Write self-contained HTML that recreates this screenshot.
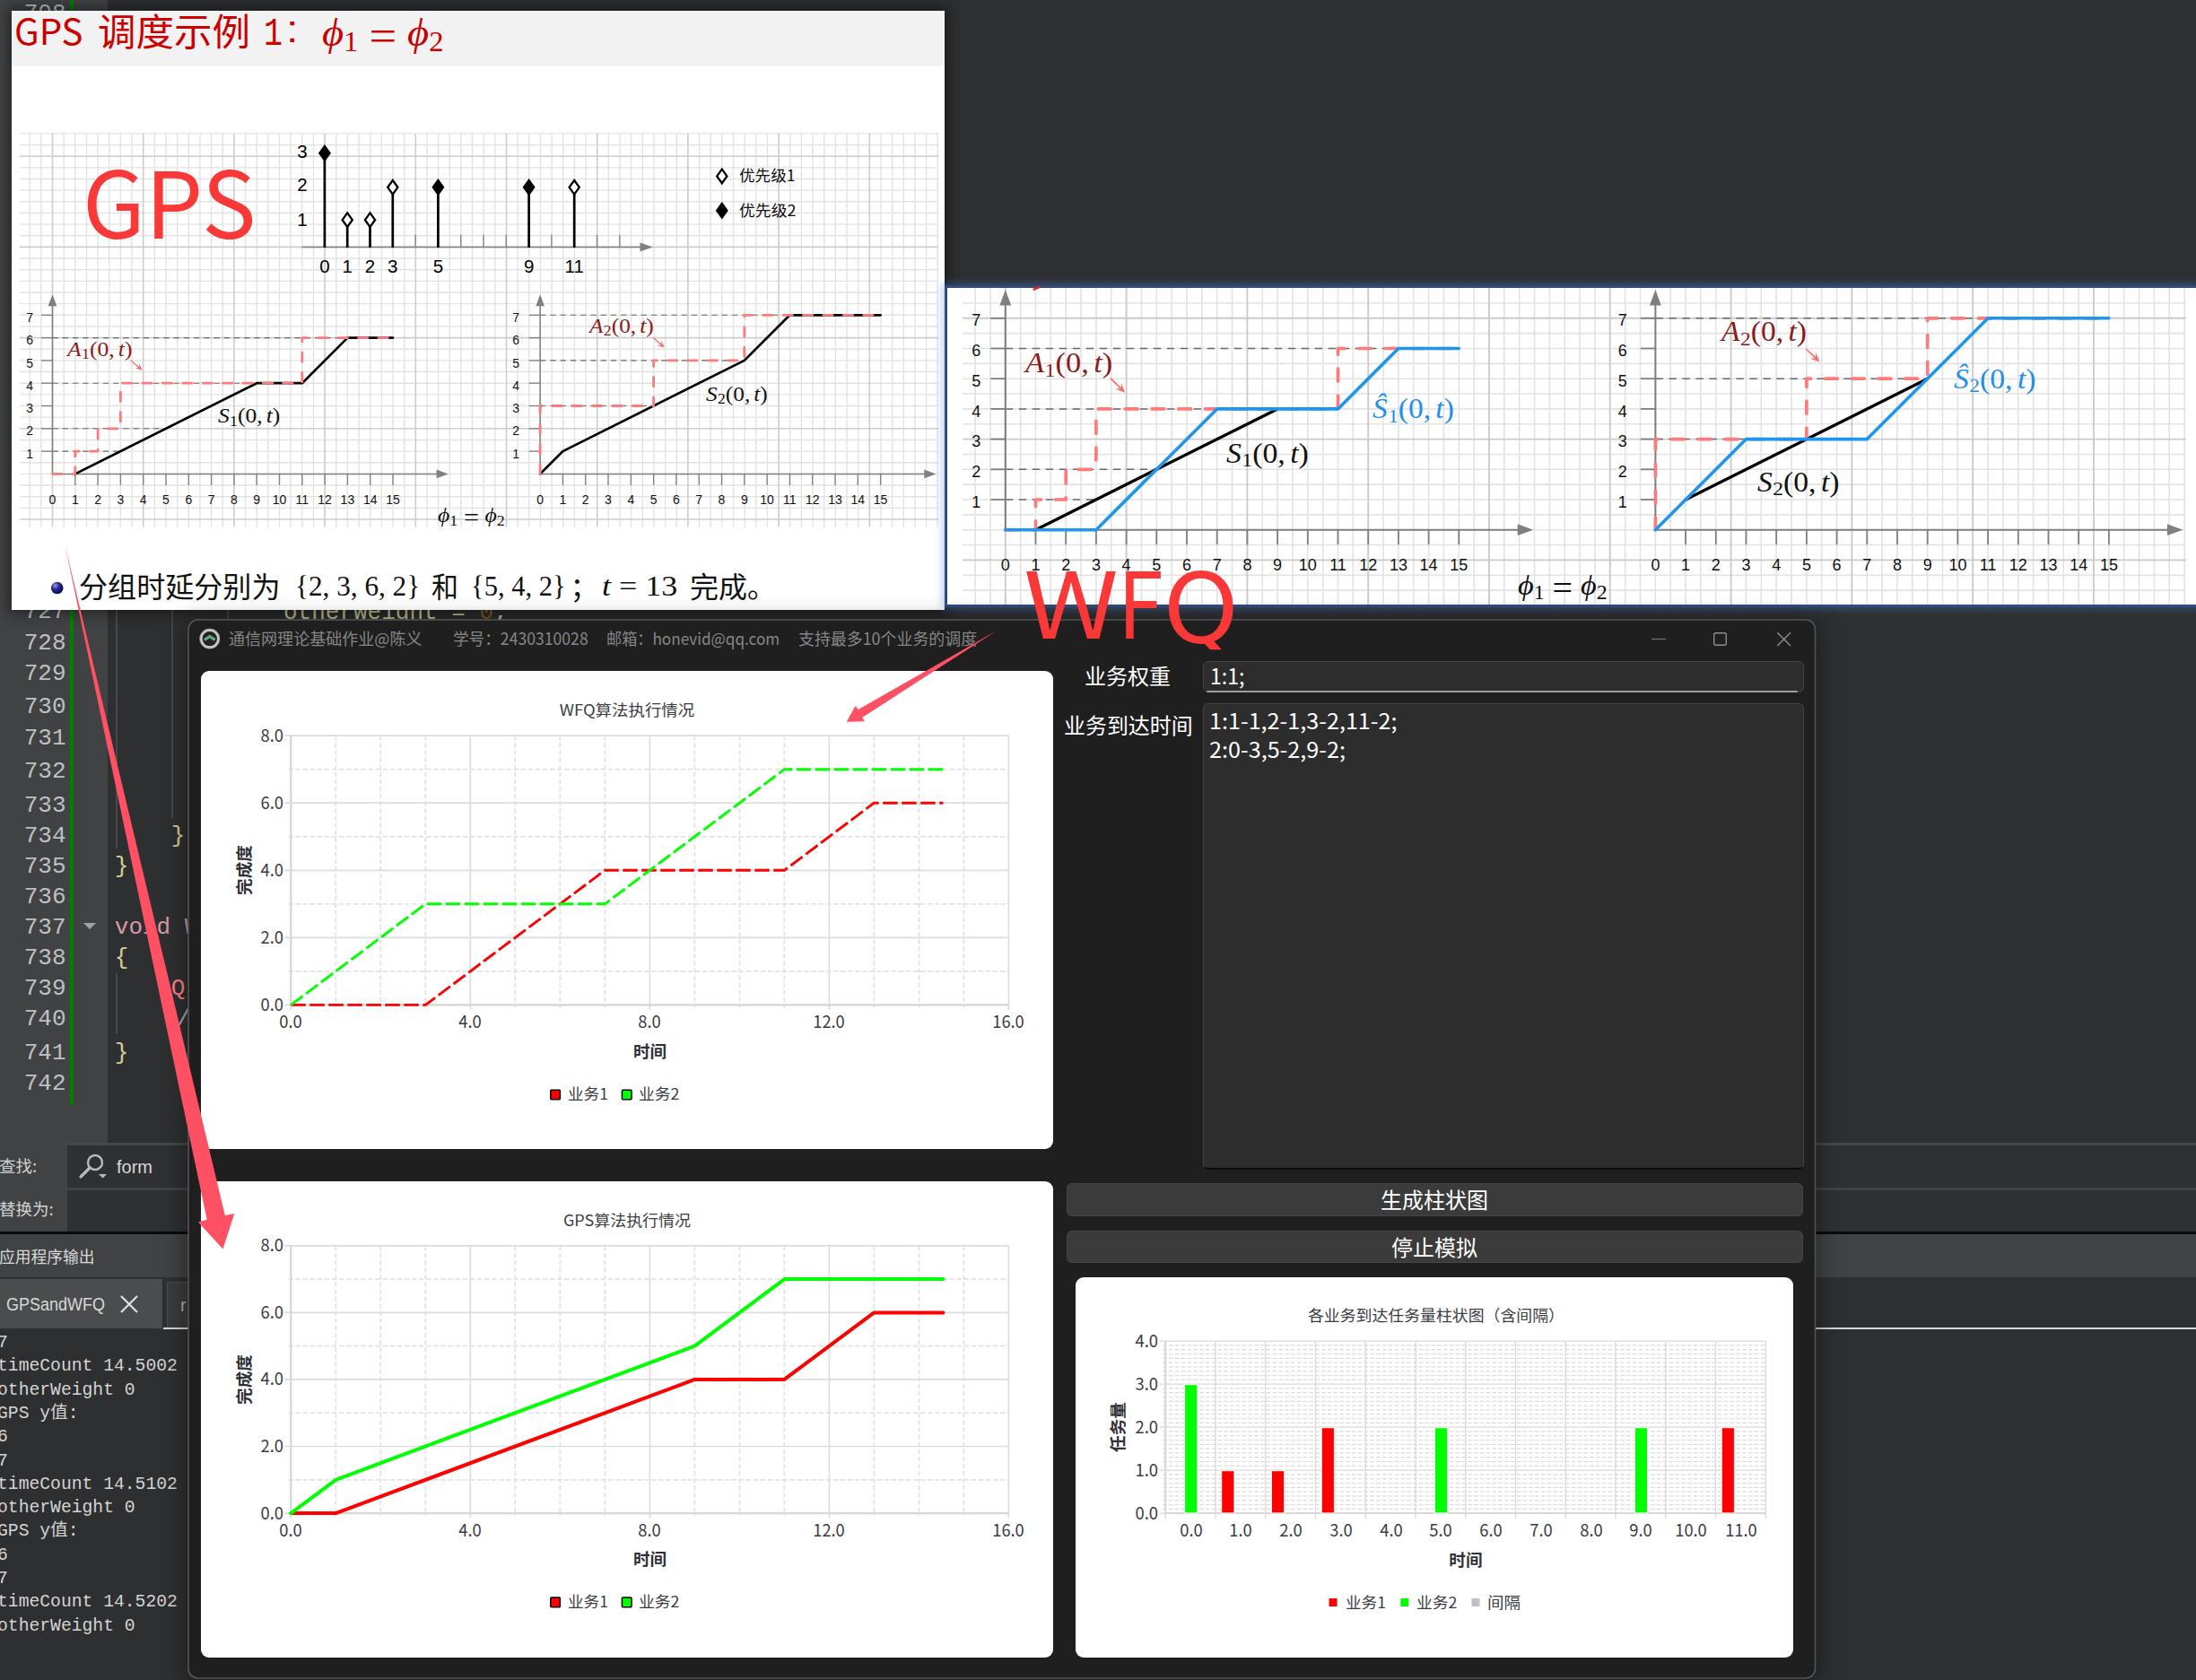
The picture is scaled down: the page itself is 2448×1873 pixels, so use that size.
<!DOCTYPE html>
<html lang="zh-CN"><head><meta charset="utf-8"><title>GPS and WFQ</title>
<style>
*{box-sizing:border-box}
html,body{margin:0;padding:0}
body{width:2448px;height:1873px;overflow:hidden;background:#2e2f31;position:relative;font-family:'Liberation Sans','Noto Sans CJK SC',sans-serif}
.abs{position:absolute}
svg{position:absolute;overflow:visible}
svg text{white-space:pre}
.t{position:absolute;white-space:pre;line-height:1}
</style></head>
<body>
<!-- IDE background -->
<div id="ide"><div class="abs" style="left:0;top:0;width:120px;height:1274px;background:#404244"></div>
<div class="abs" style="left:78px;top:0;width:4px;height:1232px;background:#008000"></div>
<div class="abs" style="left:129px;top:680px;width:2px;height:266px;background:#47484a"></div>
<div class="abs" style="left:191px;top:680px;width:2px;height:232px;background:#47484a"></div>
<div class="abs" style="left:253px;top:680px;width:2px;height:12px;background:#47484a"></div>
<div class="abs" style="left:129px;top:1085px;width:2px;height:68px;background:#47484a"></div>
<div class="t" style="left:73.5px;top:14.5px;font:400 26px/1 'Liberation Mono','Noto Sans CJK SC',monospace;color:#bec0c2;transform:translate(-100%,-50%);transform-origin:100% 50%;">708</div>
<div class="t" style="left:73.5px;top:682.2px;font:400 26px/1 'Liberation Mono','Noto Sans CJK SC',monospace;color:#bec0c2;transform:translate(-100%,-50%);transform-origin:100% 50%;">727</div>
<div class="t" style="left:73.5px;top:717.2px;font:400 26px/1 'Liberation Mono','Noto Sans CJK SC',monospace;color:#bec0c2;transform:translate(-100%,-50%);transform-origin:100% 50%;">728</div>
<div class="t" style="left:73.5px;top:750.7px;font:400 26px/1 'Liberation Mono','Noto Sans CJK SC',monospace;color:#bec0c2;transform:translate(-100%,-50%);transform-origin:100% 50%;">729</div>
<div class="t" style="left:73.5px;top:788.2px;font:400 26px/1 'Liberation Mono','Noto Sans CJK SC',monospace;color:#bec0c2;transform:translate(-100%,-50%);transform-origin:100% 50%;">730</div>
<div class="t" style="left:73.5px;top:822.7px;font:400 26px/1 'Liberation Mono','Noto Sans CJK SC',monospace;color:#bec0c2;transform:translate(-100%,-50%);transform-origin:100% 50%;">731</div>
<div class="t" style="left:73.5px;top:860.2px;font:400 26px/1 'Liberation Mono','Noto Sans CJK SC',monospace;color:#bec0c2;transform:translate(-100%,-50%);transform-origin:100% 50%;">732</div>
<div class="t" style="left:73.5px;top:897.7px;font:400 26px/1 'Liberation Mono','Noto Sans CJK SC',monospace;color:#bec0c2;transform:translate(-100%,-50%);transform-origin:100% 50%;">733</div>
<div class="t" style="left:73.5px;top:932.2px;font:400 26px/1 'Liberation Mono','Noto Sans CJK SC',monospace;color:#bec0c2;transform:translate(-100%,-50%);transform-origin:100% 50%;">734</div>
<div class="t" style="left:73.5px;top:966.2px;font:400 26px/1 'Liberation Mono','Noto Sans CJK SC',monospace;color:#bec0c2;transform:translate(-100%,-50%);transform-origin:100% 50%;">735</div>
<div class="t" style="left:73.5px;top:1000.2px;font:400 26px/1 'Liberation Mono','Noto Sans CJK SC',monospace;color:#bec0c2;transform:translate(-100%,-50%);transform-origin:100% 50%;">736</div>
<div class="t" style="left:73.5px;top:1034.2px;font:400 26px/1 'Liberation Mono','Noto Sans CJK SC',monospace;color:#bec0c2;transform:translate(-100%,-50%);transform-origin:100% 50%;">737</div>
<div class="t" style="left:73.5px;top:1068.2px;font:400 26px/1 'Liberation Mono','Noto Sans CJK SC',monospace;color:#bec0c2;transform:translate(-100%,-50%);transform-origin:100% 50%;">738</div>
<div class="t" style="left:73.5px;top:1102.2px;font:400 26px/1 'Liberation Mono','Noto Sans CJK SC',monospace;color:#bec0c2;transform:translate(-100%,-50%);transform-origin:100% 50%;">739</div>
<div class="t" style="left:73.5px;top:1136.2px;font:400 26px/1 'Liberation Mono','Noto Sans CJK SC',monospace;color:#bec0c2;transform:translate(-100%,-50%);transform-origin:100% 50%;">740</div>
<div class="t" style="left:73.5px;top:1174.2px;font:400 26px/1 'Liberation Mono','Noto Sans CJK SC',monospace;color:#bec0c2;transform:translate(-100%,-50%);transform-origin:100% 50%;">741</div>
<div class="t" style="left:73.5px;top:1208.2px;font:400 26px/1 'Liberation Mono','Noto Sans CJK SC',monospace;color:#bec0c2;transform:translate(-100%,-50%);transform-origin:100% 50%;">742</div>
<div class="t" style="left:316.0px;top:683.0px;font:400 26px/1 'Liberation Mono','Noto Sans CJK SC',monospace;color:#d6cf9a;transform:translate(0,-50%);transform-origin:0 50%;"><span style="color:#d6cf9a">otherWeight = </span><span style="color:#8a602c">0</span><span style="color:#d6cf9a">;</span></div>
<div class="t" style="left:190.8px;top:932.3px;font:400 26px/1 'Liberation Mono','Noto Sans CJK SC',monospace;color:#d6cf9a;transform:translate(0,-50%);transform-origin:0 50%;">}</div>
<div class="t" style="left:127.8px;top:966.3px;font:400 26px/1 'Liberation Mono','Noto Sans CJK SC',monospace;color:#d6cf9a;transform:translate(0,-50%);transform-origin:0 50%;">}</div>
<div class="t" style="left:127.8px;top:1034.3px;font:400 26px/1 'Liberation Mono','Noto Sans CJK SC',monospace;color:#d69aa7;transform:translate(0,-50%);transform-origin:0 50%;">void W</div>
<div class="t" style="left:127.8px;top:1068.3px;font:400 26px/1 'Liberation Mono','Noto Sans CJK SC',monospace;color:#d6cf9a;transform:translate(0,-50%);transform-origin:0 50%;">{</div>
<div class="t" style="left:190.8px;top:1102.3px;font:400 26px/1 'Liberation Mono','Noto Sans CJK SC',monospace;color:#ff8080;transform:translate(0,-50%);transform-origin:0 50%;">Q.</div>
<div class="t" style="left:197.0px;top:1136.3px;font:400 26px/1 'Liberation Mono','Noto Sans CJK SC',monospace;color:#a8abb0;transform:translate(0,-50%);transform-origin:0 50%;">//</div>
<div class="t" style="left:127.8px;top:1174.3px;font:400 26px/1 'Liberation Mono','Noto Sans CJK SC',monospace;color:#d6cf9a;transform:translate(0,-50%);transform-origin:0 50%;">}</div>
<svg style="left:93px;top:1029px" width="14" height="8"><path d="M0 0H14L7 7Z" fill="#a0a2a4"/></svg>
<div class="abs" style="left:0;top:1274px;width:2448px;height:3px;background:#46474a"></div>
<div class="abs" style="left:0;top:1277px;width:2448px;height:97px;background:#2e2f31"></div>
<div class="abs" style="left:0;top:1274px;width:75px;height:100px;background:#404244"></div>
<div class="abs" style="left:75px;top:1278px;width:2373px;height:46px;background:#2f3032"></div>
<div class="abs" style="left:0;top:1324px;width:2448px;height:3px;background:#404244"></div>
<div class="abs" style="left:75px;top:1327px;width:2373px;height:46px;background:#2f3032"></div>
<div class="abs" style="left:0;top:1373px;width:2448px;height:3px;background:#0a0a0b"></div>
<div class="abs" style="left:0;top:1376px;width:2448px;height:48px;background:#404244"></div>
<div class="abs" style="left:0;top:1424px;width:2448px;height:449px;background:#2e2f31"></div>
<div class="abs" style="left:0;top:1426px;width:181px;height:55px;background:#4b4c4e"></div>
<div class="abs" style="left:186px;top:1429px;width:60px;height:52px;background:#3a3b3d;border:1px solid #4b4c4e"></div>
<div class="abs" style="left:182px;top:1480px;width:2266px;height:2px;background:#d8d8d8"></div>
<div class="t" style="left:-1.0px;top:1298.8px;font:400 18.5px/1 'Noto Sans CJK SC','Liberation Sans',sans-serif;color:#d0d0d0;transform:translate(0,-50%);transform-origin:0 50%;">查找:</div>
<div class="t" style="left:-1.0px;top:1347.2px;font:400 18.5px/1 'Noto Sans CJK SC','Liberation Sans',sans-serif;color:#d0d0d0;transform:translate(0,-50%);transform-origin:0 50%;">替换为:</div>
<div class="t" style="left:-1.0px;top:1399.5px;font:400 18px/1 'Noto Sans CJK SC','Liberation Sans',sans-serif;color:#d8d8d8;transform:translate(0,-50%) scaleX(0.9861);transform-origin:0 50%;">应用程序输出</div>
<div class="t" style="left:7.0px;top:1453.5px;font:400 20px/1 'Liberation Sans','Noto Sans CJK SC',sans-serif;color:#d8d8d8;transform:translate(0,-50%) scaleX(0.8997);transform-origin:0 50%;">GPSandWFQ</div>
<svg style="left:134px;top:1444px" width="20" height="20"><path d="M1 1L19 19M19 1L1 19" stroke="#e0e0e0" stroke-width="2.2" fill="none"/></svg>
<div class="t" style="left:201.0px;top:1455.0px;font:400 20px/1 'Liberation Sans','Noto Sans CJK SC',sans-serif;color:#b0b0b0;transform:translate(0,-50%);transform-origin:0 50%;">r</div>
<svg style="left:88px;top:1285px" width="34" height="32"><circle cx="18" cy="11" r="8" stroke="#b9babb" stroke-width="2.4" fill="none"/><path d="M12 17L2 27" stroke="#b9babb" stroke-width="3.2" stroke-linecap="round"/><path d="M22 24H31L26.500 28.500Z" fill="#b9babb"/></svg>
<div class="t" style="left:130.0px;top:1301.0px;font:400 20px/1 'Liberation Sans','Noto Sans CJK SC',sans-serif;color:#d8d8d8;transform:translate(0,-50%);transform-origin:0 50%;">form</div>
<div class="t" style="left:-3.0px;top:1498.1px;font:400 19.7px/1 'Liberation Mono','Noto Sans CJK SC',monospace;color:#d4d4d4;transform:translate(0,-50%);transform-origin:0 50%;">7</div>
<div class="t" style="left:-3.0px;top:1524.4px;font:400 19.7px/1 'Liberation Mono','Noto Sans CJK SC',monospace;color:#d4d4d4;transform:translate(0,-50%);transform-origin:0 50%;">timeCount 14.5002</div>
<div class="t" style="left:-3.0px;top:1550.7px;font:400 19.7px/1 'Liberation Mono','Noto Sans CJK SC',monospace;color:#d4d4d4;transform:translate(0,-50%);transform-origin:0 50%;">otherWeight 0</div>
<div class="t" style="left:-3.0px;top:1577.0px;font:400 19.7px/1 'Liberation Mono','Noto Sans CJK SC',monospace;color:#d4d4d4;transform:translate(0,-50%);transform-origin:0 50%;">GPS y值:</div>
<div class="t" style="left:-3.0px;top:1603.3px;font:400 19.7px/1 'Liberation Mono','Noto Sans CJK SC',monospace;color:#d4d4d4;transform:translate(0,-50%);transform-origin:0 50%;">6</div>
<div class="t" style="left:-3.0px;top:1629.5px;font:400 19.7px/1 'Liberation Mono','Noto Sans CJK SC',monospace;color:#d4d4d4;transform:translate(0,-50%);transform-origin:0 50%;">7</div>
<div class="t" style="left:-3.0px;top:1655.8px;font:400 19.7px/1 'Liberation Mono','Noto Sans CJK SC',monospace;color:#d4d4d4;transform:translate(0,-50%);transform-origin:0 50%;">timeCount 14.5102</div>
<div class="t" style="left:-3.0px;top:1682.1px;font:400 19.7px/1 'Liberation Mono','Noto Sans CJK SC',monospace;color:#d4d4d4;transform:translate(0,-50%);transform-origin:0 50%;">otherWeight 0</div>
<div class="t" style="left:-3.0px;top:1708.4px;font:400 19.7px/1 'Liberation Mono','Noto Sans CJK SC',monospace;color:#d4d4d4;transform:translate(0,-50%);transform-origin:0 50%;">GPS y值:</div>
<div class="t" style="left:-3.0px;top:1734.7px;font:400 19.7px/1 'Liberation Mono','Noto Sans CJK SC',monospace;color:#d4d4d4;transform:translate(0,-50%);transform-origin:0 50%;">6</div>
<div class="t" style="left:-3.0px;top:1761.0px;font:400 19.7px/1 'Liberation Mono','Noto Sans CJK SC',monospace;color:#d4d4d4;transform:translate(0,-50%);transform-origin:0 50%;">7</div>
<div class="t" style="left:-3.0px;top:1787.3px;font:400 19.7px/1 'Liberation Mono','Noto Sans CJK SC',monospace;color:#d4d4d4;transform:translate(0,-50%);transform-origin:0 50%;">timeCount 14.5202</div>
<div class="t" style="left:-3.0px;top:1813.6px;font:400 19.7px/1 'Liberation Mono','Noto Sans CJK SC',monospace;color:#d4d4d4;transform:translate(0,-50%);transform-origin:0 50%;">otherWeight 0</div></div>
<!-- beamer slide -->
<div id="slide"><div class="abs" style="left:13px;top:12px;width:1040px;height:668px;background:#fff;box-shadow:0 0 14px 4px rgba(0,0,0,.45)"></div>
<div class="abs" style="left:13px;top:12px;width:1040px;height:62px;background:#f2f2f2"></div>
<div class="t" style="left:15.5px;top:33.2px;font:400 40px/1 'Noto Sans CJK SC','Liberation Sans',sans-serif;color:#cc0000;transform:translate(0,-50%) scaleX(1.0029);transform-origin:0 50%;">GPS</div>
<div class="t" style="left:108.5px;top:33.2px;font:400 42px/1 'Noto Sans CJK SC','Liberation Sans',sans-serif;color:#cc0000;transform:translate(0,-50%) scaleX(1.0118);transform-origin:0 50%;">调度示例</div>
<div class="t" style="left:293.6px;top:38.0px;font:400 44.5px/1 'Liberation Mono','Noto Sans CJK SC',monospace;color:#cc0000;transform:translate(0,-50%) scaleX(0.7860);transform-origin:0 50%;">1</div>
<div class="t" style="left:319.0px;top:32.5px;font:400 42px/1 'Liberation Sans','Noto Sans CJK SC',sans-serif;color:#cc0000;transform:translate(0,-50%) scaleX(1.1566);transform-origin:0 50%;">:</div>
<div class="t" style="left:359.0px;top:36.5px;font:400 44px/1 'Liberation Serif','Noto Serif CJK SC',serif;color:#cc0000;transform:translate(0,-50%) scaleX(1.0583);transform-origin:0 50%;"><i>ϕ</i><span style="font-size:0.7em;position:relative;top:0.2em">1</span><span style="margin:0 0.22em;font-size:1.17em;position:relative;top:0.13em;line-height:0">=</span><i>ϕ</i><span style="font-size:0.7em;position:relative;top:0.2em">2</span></div>
<svg style="left:0;top:0" width="2448" height="1873"><path d="M33.20 148.7V587.6M45.85 148.7V587.6M71.15 148.7V587.6M83.80 148.7V587.6M96.45 148.7V587.6M109.10 148.7V587.6M121.75 148.7V587.6M134.40 148.7V587.6M147.05 148.7V587.6M172.35 148.7V587.6M185.00 148.7V587.6M197.65 148.7V587.6M210.30 148.7V587.6M222.95 148.7V587.6M235.60 148.7V587.6M248.25 148.7V587.6M273.55 148.7V587.6M286.20 148.7V587.6M298.85 148.7V587.6M311.50 148.7V587.6M324.15 148.7V587.6M336.80 148.7V587.6M349.45 148.7V587.6M374.75 148.7V587.6M387.40 148.7V587.6M400.05 148.7V587.6M412.70 148.7V587.6M425.35 148.7V587.6M438.00 148.7V587.6M450.65 148.7V587.6M475.95 148.7V587.6M488.60 148.7V587.6M501.25 148.7V587.6M513.90 148.7V587.6M526.55 148.7V587.6M539.20 148.7V587.6M551.85 148.7V587.6M577.15 148.7V587.6M589.80 148.7V587.6M602.45 148.7V587.6M615.10 148.7V587.6M627.75 148.7V587.6M640.40 148.7V587.6M653.05 148.7V587.6M678.35 148.7V587.6M691.00 148.7V587.6M703.65 148.7V587.6M716.30 148.7V587.6M728.95 148.7V587.6M741.60 148.7V587.6M754.25 148.7V587.6M779.55 148.7V587.6M792.20 148.7V587.6M804.85 148.7V587.6M817.50 148.7V587.6M830.15 148.7V587.6M842.80 148.7V587.6M855.45 148.7V587.6M880.75 148.7V587.6M893.40 148.7V587.6M906.05 148.7V587.6M918.70 148.7V587.6M931.35 148.7V587.6M944.00 148.7V587.6M956.65 148.7V587.6M981.95 148.7V587.6M994.60 148.7V587.6M1007.25 148.7V587.6M1019.90 148.7V587.6M1032.55 148.7V587.6M1045.20 148.7V587.6M21.8 148.90H1046.2M21.8 161.55H1046.2M21.8 186.85H1046.2M21.8 199.50H1046.2M21.8 212.15H1046.2M21.8 224.80H1046.2M21.8 237.45H1046.2M21.8 250.10H1046.2M21.8 262.75H1046.2M21.8 288.05H1046.2M21.8 300.70H1046.2M21.8 313.35H1046.2M21.8 326.00H1046.2M21.8 338.65H1046.2M21.8 351.30H1046.2M21.8 363.95H1046.2M21.8 389.25H1046.2M21.8 401.90H1046.2M21.8 414.55H1046.2M21.8 427.20H1046.2M21.8 439.85H1046.2M21.8 452.50H1046.2M21.8 465.15H1046.2M21.8 490.45H1046.2M21.8 503.10H1046.2M21.8 515.75H1046.2M21.8 528.40H1046.2M21.8 541.05H1046.2M21.8 553.70H1046.2M21.8 566.35H1046.2" stroke="#e3e3e3" stroke-width="1.4" fill="none"/><path d="M58.50 148.7V587.6M159.70 148.7V587.6M260.90 148.7V587.6M362.10 148.7V587.6M463.30 148.7V587.6M564.50 148.7V587.6M665.70 148.7V587.6M766.90 148.7V587.6M868.10 148.7V587.6M969.30 148.7V587.6M21.8 174.20H1046.2M21.8 275.40H1046.2M21.8 376.60H1046.2M21.8 477.80H1046.2M21.8 579.00H1046.2" stroke="#cdcdcd" stroke-width="1.6" fill="none"/><path d="M336.4 275.5H716" stroke="#808080" stroke-width="1.6"/><path d="M727.6 275.5L713.5 270.5V280.5Z" fill="#808080"/><path d="M463.1 275.5v-13.7" stroke="#808080" stroke-width="1.3"/><path d="M513.7 275.5v-13.7" stroke="#808080" stroke-width="1.3"/><path d="M539.0 275.5v-13.7" stroke="#808080" stroke-width="1.3"/><path d="M564.3 275.5v-13.7" stroke="#808080" stroke-width="1.3"/><path d="M614.9 275.5v-13.7" stroke="#808080" stroke-width="1.3"/><path d="M665.5 275.5v-13.7" stroke="#808080" stroke-width="1.3"/><path d="M690.8 275.5v-13.7" stroke="#808080" stroke-width="1.3"/><path d="M361.9 276.0V177.7" stroke="#000" stroke-width="2.7"/><path d="M361.9 162.9L367.5 170.7L361.9 178.5L356.3 170.7Z" fill="#000" stroke="#000" stroke-width="2.3" stroke-linejoin="miter"/><path d="M387.2 276.0V252.2" stroke="#000" stroke-width="2.7"/><path d="M387.2 237.4L392.8 245.2L387.2 253.0L381.6 245.2Z" fill="#fff" stroke="#000" stroke-width="2.3" stroke-linejoin="miter"/><path d="M412.5 276.0V252.2" stroke="#000" stroke-width="2.7"/><path d="M412.5 237.4L418.1 245.2L412.5 253.0L406.9 245.2Z" fill="#fff" stroke="#000" stroke-width="2.3" stroke-linejoin="miter"/><path d="M437.8 276.0V215.8" stroke="#000" stroke-width="2.7"/><path d="M437.8 201.0L443.4 208.8L437.8 216.6L432.2 208.8Z" fill="#fff" stroke="#000" stroke-width="2.3" stroke-linejoin="miter"/><path d="M488.4 276.0V215.8" stroke="#000" stroke-width="2.7"/><path d="M488.4 201.0L494.0 208.8L488.4 216.6L482.8 208.8Z" fill="#000" stroke="#000" stroke-width="2.3" stroke-linejoin="miter"/><path d="M589.6 276.0V215.8" stroke="#000" stroke-width="2.7"/><path d="M589.6 201.0L595.2 208.8L589.6 216.6L584.0 208.8Z" fill="#000" stroke="#000" stroke-width="2.3" stroke-linejoin="miter"/><path d="M640.2 276.0V215.8" stroke="#000" stroke-width="2.7"/><path d="M640.2 201.0L645.8 208.8L640.2 216.6L634.6 208.8Z" fill="#fff" stroke="#000" stroke-width="2.3" stroke-linejoin="miter"/><path d="M804.8 188.6L810.4 196.4L804.8 204.2L799.2 196.4Z" fill="#fff" stroke="#000" stroke-width="2.3" stroke-linejoin="miter"/><path d="M804.8 226.9L810.4 234.7L804.8 242.5L799.2 234.7Z" fill="#000" stroke="#000" stroke-width="2.3" stroke-linejoin="miter"/><path d="M58.5 376.6H387.4" stroke="#6a6a6a" stroke-width="1.1" stroke-dasharray="6.3 4.95"/><path d="M58.5 427.2H286.2" stroke="#6a6a6a" stroke-width="1.1" stroke-dasharray="6.3 4.95"/><path d="M58.5 477.8H185.0" stroke="#6a6a6a" stroke-width="1.1" stroke-dasharray="6.3 4.95"/><path d="M58.5 503.1H134.4" stroke="#6a6a6a" stroke-width="1.1" stroke-dasharray="6.3 4.95"/><path d="M58.5 528.4V340.3 M58.5 528.4H487.6" stroke="#7f7f7f" stroke-width="1.5" fill="none"/><path d="M58.5 328.3l-4.8 13.0h9.6Z" fill="#7f7f7f"/><path d="M499.6 528.4l-13.0 -4.8v9.6Z" fill="#7f7f7f"/><path d="M83.8 528.4v12.5" stroke="#7f7f7f" stroke-width="1.3"/><path d="M109.1 528.4v12.5" stroke="#7f7f7f" stroke-width="1.3"/><path d="M134.4 528.4v12.5" stroke="#7f7f7f" stroke-width="1.3"/><path d="M159.7 528.4v12.5" stroke="#7f7f7f" stroke-width="1.3"/><path d="M185.0 528.4v12.5" stroke="#7f7f7f" stroke-width="1.3"/><path d="M210.3 528.4v12.5" stroke="#7f7f7f" stroke-width="1.3"/><path d="M235.6 528.4v12.5" stroke="#7f7f7f" stroke-width="1.3"/><path d="M260.9 528.4v12.5" stroke="#7f7f7f" stroke-width="1.3"/><path d="M286.2 528.4v12.5" stroke="#7f7f7f" stroke-width="1.3"/><path d="M311.5 528.4v12.5" stroke="#7f7f7f" stroke-width="1.3"/><path d="M336.8 528.4v12.5" stroke="#7f7f7f" stroke-width="1.3"/><path d="M362.1 528.4v12.5" stroke="#7f7f7f" stroke-width="1.3"/><path d="M387.4 528.4v12.5" stroke="#7f7f7f" stroke-width="1.3"/><path d="M412.7 528.4v12.5" stroke="#7f7f7f" stroke-width="1.3"/><path d="M438.0 528.4v12.5" stroke="#7f7f7f" stroke-width="1.3"/><path d="M58.5 503.1h-12.5" stroke="#7f7f7f" stroke-width="1.3"/><path d="M58.5 477.8h-12.5" stroke="#7f7f7f" stroke-width="1.3"/><path d="M58.5 452.5h-12.5" stroke="#7f7f7f" stroke-width="1.3"/><path d="M58.5 427.2h-12.5" stroke="#7f7f7f" stroke-width="1.3"/><path d="M58.5 401.9h-12.5" stroke="#7f7f7f" stroke-width="1.3"/><path d="M58.5 376.6h-12.5" stroke="#7f7f7f" stroke-width="1.3"/><path d="M58.5 351.3h-12.5" stroke="#7f7f7f" stroke-width="1.3"/><path d="M83.8 528.4 L286.2 427.2 L336.8 427.2 L387.4 376.6 L438.0 376.6" stroke="#000" stroke-width="2.7" fill="none" stroke-linejoin="round" stroke-linecap="round"/><path d="M58.5 528.4 L83.8 528.4 L83.8 503.1 L109.1 503.1 L109.1 477.8 L134.4 477.8 L134.4 427.2 L336.8 427.2 L336.8 376.6 L438.0 376.6" stroke="#ff7b7b" stroke-width="2.8" fill="none" stroke-dasharray="10.4 12" stroke-linecap="round" stroke-linejoin="round"/><path d="M602.1 351.3H880.4" stroke="#6a6a6a" stroke-width="1.1" stroke-dasharray="6.3 4.95"/><path d="M602.1 401.9H829.8" stroke="#6a6a6a" stroke-width="1.1" stroke-dasharray="6.3 4.95"/><path d="M602.1 452.5H728.6" stroke="#6a6a6a" stroke-width="1.1" stroke-dasharray="6.3 4.95"/><path d="M602.1 528.4V340.3 M602.1 528.4H1031.3" stroke="#7f7f7f" stroke-width="1.5" fill="none"/><path d="M602.1 328.3l-4.8 13.0h9.6Z" fill="#7f7f7f"/><path d="M1043.3 528.4l-13.0 -4.8v9.6Z" fill="#7f7f7f"/><path d="M627.4 528.4v12.5" stroke="#7f7f7f" stroke-width="1.3"/><path d="M652.7 528.4v12.5" stroke="#7f7f7f" stroke-width="1.3"/><path d="M678.0 528.4v12.5" stroke="#7f7f7f" stroke-width="1.3"/><path d="M703.3 528.4v12.5" stroke="#7f7f7f" stroke-width="1.3"/><path d="M728.6 528.4v12.5" stroke="#7f7f7f" stroke-width="1.3"/><path d="M753.9 528.4v12.5" stroke="#7f7f7f" stroke-width="1.3"/><path d="M779.2 528.4v12.5" stroke="#7f7f7f" stroke-width="1.3"/><path d="M804.5 528.4v12.5" stroke="#7f7f7f" stroke-width="1.3"/><path d="M829.8 528.4v12.5" stroke="#7f7f7f" stroke-width="1.3"/><path d="M855.1 528.4v12.5" stroke="#7f7f7f" stroke-width="1.3"/><path d="M880.4 528.4v12.5" stroke="#7f7f7f" stroke-width="1.3"/><path d="M905.7 528.4v12.5" stroke="#7f7f7f" stroke-width="1.3"/><path d="M931.0 528.4v12.5" stroke="#7f7f7f" stroke-width="1.3"/><path d="M956.3 528.4v12.5" stroke="#7f7f7f" stroke-width="1.3"/><path d="M981.6 528.4v12.5" stroke="#7f7f7f" stroke-width="1.3"/><path d="M602.1 503.1h-12.5" stroke="#7f7f7f" stroke-width="1.3"/><path d="M602.1 477.8h-12.5" stroke="#7f7f7f" stroke-width="1.3"/><path d="M602.1 452.5h-12.5" stroke="#7f7f7f" stroke-width="1.3"/><path d="M602.1 427.2h-12.5" stroke="#7f7f7f" stroke-width="1.3"/><path d="M602.1 401.9h-12.5" stroke="#7f7f7f" stroke-width="1.3"/><path d="M602.1 376.6h-12.5" stroke="#7f7f7f" stroke-width="1.3"/><path d="M602.1 351.3h-12.5" stroke="#7f7f7f" stroke-width="1.3"/><path d="M602.1 528.4 L627.4 503.1 L829.8 401.9 L880.4 351.3 L981.6 351.3" stroke="#000" stroke-width="2.7" fill="none" stroke-linejoin="round" stroke-linecap="round"/><path d="M602.1 528.4 L602.1 452.5 L728.6 452.5 L728.6 401.9 L829.8 401.9 L829.8 351.3 L981.6 351.3" stroke="#ff7b7b" stroke-width="2.8" fill="none" stroke-dasharray="10.4 12" stroke-linecap="round" stroke-linejoin="round"/><path d="M145.6 401.7L155.0 409.8" stroke="#ff6b6b" stroke-width="1.3" fill="none"/><path d="M158.6 412.8L154.9 405.1L155.0 409.8L150.4 410.4Z" fill="#ff6b6b"/><path d="M728.4 376.4L737.2 384.4" stroke="#ff6b6b" stroke-width="1.3" fill="none"/><path d="M740.7 387.5L737.3 379.7L737.2 384.4L732.6 384.9Z" fill="#ff6b6b"/><defs><radialGradient id="ball" cx="35%" cy="30%" r="70%"><stop offset="0" stop-color="#9a9ad8"/><stop offset="0.45" stop-color="#2a2a9a"/><stop offset="1" stop-color="#0a0a50"/></radialGradient></defs><circle cx="63.7" cy="655.5" r="6.8" fill="url(#ball)"/></svg>
<div class="t" style="left:336.9px;top:169.1px;font:400 20.5px/1 'Liberation Sans','Noto Sans CJK SC',sans-serif;color:#000;transform:translate(-50%,-50%);transform-origin:50% 50%;">3</div>
<div class="t" style="left:336.9px;top:205.5px;font:400 20.5px/1 'Liberation Sans','Noto Sans CJK SC',sans-serif;color:#000;transform:translate(-50%,-50%);transform-origin:50% 50%;">2</div>
<div class="t" style="left:336.9px;top:244.7px;font:400 20.5px/1 'Liberation Sans','Noto Sans CJK SC',sans-serif;color:#000;transform:translate(-50%,-50%);transform-origin:50% 50%;">1</div>
<div class="t" style="left:361.9px;top:296.6px;font:400 20.5px/1 'Liberation Sans','Noto Sans CJK SC',sans-serif;color:#000;transform:translate(-50%,-50%);transform-origin:50% 50%;">0</div>
<div class="t" style="left:387.2px;top:296.6px;font:400 20.5px/1 'Liberation Sans','Noto Sans CJK SC',sans-serif;color:#000;transform:translate(-50%,-50%);transform-origin:50% 50%;">1</div>
<div class="t" style="left:412.5px;top:296.6px;font:400 20.5px/1 'Liberation Sans','Noto Sans CJK SC',sans-serif;color:#000;transform:translate(-50%,-50%);transform-origin:50% 50%;">2</div>
<div class="t" style="left:437.8px;top:296.6px;font:400 20.5px/1 'Liberation Sans','Noto Sans CJK SC',sans-serif;color:#000;transform:translate(-50%,-50%);transform-origin:50% 50%;">3</div>
<div class="t" style="left:488.4px;top:296.6px;font:400 20.5px/1 'Liberation Sans','Noto Sans CJK SC',sans-serif;color:#000;transform:translate(-50%,-50%);transform-origin:50% 50%;">5</div>
<div class="t" style="left:589.6px;top:296.6px;font:400 20.5px/1 'Liberation Sans','Noto Sans CJK SC',sans-serif;color:#000;transform:translate(-50%,-50%);transform-origin:50% 50%;">9</div>
<div class="t" style="left:640.2px;top:296.6px;font:400 20.5px/1 'Liberation Sans','Noto Sans CJK SC',sans-serif;color:#000;transform:translate(-50%,-50%);transform-origin:50% 50%;">11</div>
<div class="t" style="left:824.0px;top:195.3px;font:400 17.3px/1 'Noto Sans CJK SC','Liberation Sans',sans-serif;color:#111;transform:translate(0,-50%) scaleX(1.0173);transform-origin:0 50%;">优先级1</div>
<div class="t" style="left:824.0px;top:233.5px;font:400 17.3px/1 'Noto Sans CJK SC','Liberation Sans',sans-serif;color:#111;transform:translate(0,-50%) scaleX(1.0336);transform-origin:0 50%;">优先级2</div>
<div class="t" style="left:33.1px;top:505.7px;font:400 14px/1 'Liberation Sans','Noto Sans CJK SC',sans-serif;color:#111;transform:translate(-50%,-50%);transform-origin:50% 50%;">1</div>
<div class="t" style="left:575.2px;top:505.7px;font:400 14px/1 'Liberation Sans','Noto Sans CJK SC',sans-serif;color:#111;transform:translate(-50%,-50%);transform-origin:50% 50%;">1</div>
<div class="t" style="left:33.1px;top:480.4px;font:400 14px/1 'Liberation Sans','Noto Sans CJK SC',sans-serif;color:#111;transform:translate(-50%,-50%);transform-origin:50% 50%;">2</div>
<div class="t" style="left:575.2px;top:480.4px;font:400 14px/1 'Liberation Sans','Noto Sans CJK SC',sans-serif;color:#111;transform:translate(-50%,-50%);transform-origin:50% 50%;">2</div>
<div class="t" style="left:33.1px;top:455.1px;font:400 14px/1 'Liberation Sans','Noto Sans CJK SC',sans-serif;color:#111;transform:translate(-50%,-50%);transform-origin:50% 50%;">3</div>
<div class="t" style="left:575.2px;top:455.1px;font:400 14px/1 'Liberation Sans','Noto Sans CJK SC',sans-serif;color:#111;transform:translate(-50%,-50%);transform-origin:50% 50%;">3</div>
<div class="t" style="left:33.1px;top:429.8px;font:400 14px/1 'Liberation Sans','Noto Sans CJK SC',sans-serif;color:#111;transform:translate(-50%,-50%);transform-origin:50% 50%;">4</div>
<div class="t" style="left:575.2px;top:429.8px;font:400 14px/1 'Liberation Sans','Noto Sans CJK SC',sans-serif;color:#111;transform:translate(-50%,-50%);transform-origin:50% 50%;">4</div>
<div class="t" style="left:33.1px;top:404.5px;font:400 14px/1 'Liberation Sans','Noto Sans CJK SC',sans-serif;color:#111;transform:translate(-50%,-50%);transform-origin:50% 50%;">5</div>
<div class="t" style="left:575.2px;top:404.5px;font:400 14px/1 'Liberation Sans','Noto Sans CJK SC',sans-serif;color:#111;transform:translate(-50%,-50%);transform-origin:50% 50%;">5</div>
<div class="t" style="left:33.1px;top:379.2px;font:400 14px/1 'Liberation Sans','Noto Sans CJK SC',sans-serif;color:#111;transform:translate(-50%,-50%);transform-origin:50% 50%;">6</div>
<div class="t" style="left:575.2px;top:379.2px;font:400 14px/1 'Liberation Sans','Noto Sans CJK SC',sans-serif;color:#111;transform:translate(-50%,-50%);transform-origin:50% 50%;">6</div>
<div class="t" style="left:33.1px;top:353.9px;font:400 14px/1 'Liberation Sans','Noto Sans CJK SC',sans-serif;color:#111;transform:translate(-50%,-50%);transform-origin:50% 50%;">7</div>
<div class="t" style="left:575.2px;top:353.9px;font:400 14px/1 'Liberation Sans','Noto Sans CJK SC',sans-serif;color:#111;transform:translate(-50%,-50%);transform-origin:50% 50%;">7</div>
<div class="t" style="left:58.5px;top:557.2px;font:400 14px/1 'Liberation Sans','Noto Sans CJK SC',sans-serif;color:#111;transform:translate(-50%,-50%);transform-origin:50% 50%;">0</div>
<div class="t" style="left:602.1px;top:557.2px;font:400 14px/1 'Liberation Sans','Noto Sans CJK SC',sans-serif;color:#111;transform:translate(-50%,-50%);transform-origin:50% 50%;">0</div>
<div class="t" style="left:83.8px;top:557.2px;font:400 14px/1 'Liberation Sans','Noto Sans CJK SC',sans-serif;color:#111;transform:translate(-50%,-50%);transform-origin:50% 50%;">1</div>
<div class="t" style="left:627.4px;top:557.2px;font:400 14px/1 'Liberation Sans','Noto Sans CJK SC',sans-serif;color:#111;transform:translate(-50%,-50%);transform-origin:50% 50%;">1</div>
<div class="t" style="left:109.1px;top:557.2px;font:400 14px/1 'Liberation Sans','Noto Sans CJK SC',sans-serif;color:#111;transform:translate(-50%,-50%);transform-origin:50% 50%;">2</div>
<div class="t" style="left:652.7px;top:557.2px;font:400 14px/1 'Liberation Sans','Noto Sans CJK SC',sans-serif;color:#111;transform:translate(-50%,-50%);transform-origin:50% 50%;">2</div>
<div class="t" style="left:134.4px;top:557.2px;font:400 14px/1 'Liberation Sans','Noto Sans CJK SC',sans-serif;color:#111;transform:translate(-50%,-50%);transform-origin:50% 50%;">3</div>
<div class="t" style="left:678.0px;top:557.2px;font:400 14px/1 'Liberation Sans','Noto Sans CJK SC',sans-serif;color:#111;transform:translate(-50%,-50%);transform-origin:50% 50%;">3</div>
<div class="t" style="left:159.7px;top:557.2px;font:400 14px/1 'Liberation Sans','Noto Sans CJK SC',sans-serif;color:#111;transform:translate(-50%,-50%);transform-origin:50% 50%;">4</div>
<div class="t" style="left:703.3px;top:557.2px;font:400 14px/1 'Liberation Sans','Noto Sans CJK SC',sans-serif;color:#111;transform:translate(-50%,-50%);transform-origin:50% 50%;">4</div>
<div class="t" style="left:185.0px;top:557.2px;font:400 14px/1 'Liberation Sans','Noto Sans CJK SC',sans-serif;color:#111;transform:translate(-50%,-50%);transform-origin:50% 50%;">5</div>
<div class="t" style="left:728.6px;top:557.2px;font:400 14px/1 'Liberation Sans','Noto Sans CJK SC',sans-serif;color:#111;transform:translate(-50%,-50%);transform-origin:50% 50%;">5</div>
<div class="t" style="left:210.3px;top:557.2px;font:400 14px/1 'Liberation Sans','Noto Sans CJK SC',sans-serif;color:#111;transform:translate(-50%,-50%);transform-origin:50% 50%;">6</div>
<div class="t" style="left:753.9px;top:557.2px;font:400 14px/1 'Liberation Sans','Noto Sans CJK SC',sans-serif;color:#111;transform:translate(-50%,-50%);transform-origin:50% 50%;">6</div>
<div class="t" style="left:235.6px;top:557.2px;font:400 14px/1 'Liberation Sans','Noto Sans CJK SC',sans-serif;color:#111;transform:translate(-50%,-50%);transform-origin:50% 50%;">7</div>
<div class="t" style="left:779.2px;top:557.2px;font:400 14px/1 'Liberation Sans','Noto Sans CJK SC',sans-serif;color:#111;transform:translate(-50%,-50%);transform-origin:50% 50%;">7</div>
<div class="t" style="left:260.9px;top:557.2px;font:400 14px/1 'Liberation Sans','Noto Sans CJK SC',sans-serif;color:#111;transform:translate(-50%,-50%);transform-origin:50% 50%;">8</div>
<div class="t" style="left:804.5px;top:557.2px;font:400 14px/1 'Liberation Sans','Noto Sans CJK SC',sans-serif;color:#111;transform:translate(-50%,-50%);transform-origin:50% 50%;">8</div>
<div class="t" style="left:286.2px;top:557.2px;font:400 14px/1 'Liberation Sans','Noto Sans CJK SC',sans-serif;color:#111;transform:translate(-50%,-50%);transform-origin:50% 50%;">9</div>
<div class="t" style="left:829.8px;top:557.2px;font:400 14px/1 'Liberation Sans','Noto Sans CJK SC',sans-serif;color:#111;transform:translate(-50%,-50%);transform-origin:50% 50%;">9</div>
<div class="t" style="left:311.5px;top:557.2px;font:400 14px/1 'Liberation Sans','Noto Sans CJK SC',sans-serif;color:#111;transform:translate(-50%,-50%);transform-origin:50% 50%;">10</div>
<div class="t" style="left:855.1px;top:557.2px;font:400 14px/1 'Liberation Sans','Noto Sans CJK SC',sans-serif;color:#111;transform:translate(-50%,-50%);transform-origin:50% 50%;">10</div>
<div class="t" style="left:336.8px;top:557.2px;font:400 14px/1 'Liberation Sans','Noto Sans CJK SC',sans-serif;color:#111;transform:translate(-50%,-50%);transform-origin:50% 50%;">11</div>
<div class="t" style="left:880.4px;top:557.2px;font:400 14px/1 'Liberation Sans','Noto Sans CJK SC',sans-serif;color:#111;transform:translate(-50%,-50%);transform-origin:50% 50%;">11</div>
<div class="t" style="left:362.1px;top:557.2px;font:400 14px/1 'Liberation Sans','Noto Sans CJK SC',sans-serif;color:#111;transform:translate(-50%,-50%);transform-origin:50% 50%;">12</div>
<div class="t" style="left:905.7px;top:557.2px;font:400 14px/1 'Liberation Sans','Noto Sans CJK SC',sans-serif;color:#111;transform:translate(-50%,-50%);transform-origin:50% 50%;">12</div>
<div class="t" style="left:387.4px;top:557.2px;font:400 14px/1 'Liberation Sans','Noto Sans CJK SC',sans-serif;color:#111;transform:translate(-50%,-50%);transform-origin:50% 50%;">13</div>
<div class="t" style="left:931.0px;top:557.2px;font:400 14px/1 'Liberation Sans','Noto Sans CJK SC',sans-serif;color:#111;transform:translate(-50%,-50%);transform-origin:50% 50%;">13</div>
<div class="t" style="left:412.7px;top:557.2px;font:400 14px/1 'Liberation Sans','Noto Sans CJK SC',sans-serif;color:#111;transform:translate(-50%,-50%);transform-origin:50% 50%;">14</div>
<div class="t" style="left:956.3px;top:557.2px;font:400 14px/1 'Liberation Sans','Noto Sans CJK SC',sans-serif;color:#111;transform:translate(-50%,-50%);transform-origin:50% 50%;">14</div>
<div class="t" style="left:438.0px;top:557.2px;font:400 14px/1 'Liberation Sans','Noto Sans CJK SC',sans-serif;color:#111;transform:translate(-50%,-50%);transform-origin:50% 50%;">15</div>
<div class="t" style="left:981.6px;top:557.2px;font:400 14px/1 'Liberation Sans','Noto Sans CJK SC',sans-serif;color:#111;transform:translate(-50%,-50%);transform-origin:50% 50%;">15</div>
<div class="t" style="left:75.0px;top:389.5px;font:400 23.5px/1 'Liberation Serif','Noto Serif CJK SC',serif;color:#8b1a1a;transform:translate(0,-50%) scaleX(1.0907);transform-origin:0 50%;"><i>A</i><span style="font-size:0.7em;position:relative;top:0.22em;margin-left:0.02em">1</span>(0,<span style="margin-left:.16em"><i>t</i></span>)</div>
<div class="t" style="left:243.2px;top:464.4px;font:400 23.5px/1 'Liberation Serif','Noto Serif CJK SC',serif;color:#111;transform:translate(0,-50%) scaleX(1.0852);transform-origin:0 50%;"><i>S</i><span style="font-size:0.7em;position:relative;top:0.22em;margin-left:0.02em">1</span>(0,<span style="margin-left:.16em"><i>t</i></span>)</div>
<div class="t" style="left:657.3px;top:363.5px;font:400 23.5px/1 'Liberation Serif','Noto Serif CJK SC',serif;color:#8b1a1a;transform:translate(0,-50%) scaleX(1.0787);transform-origin:0 50%;"><i>A</i><span style="font-size:0.7em;position:relative;top:0.22em;margin-left:0.02em">2</span>(0,<span style="margin-left:.16em"><i>t</i></span>)</div>
<div class="t" style="left:786.8px;top:439.6px;font:400 23.5px/1 'Liberation Serif','Noto Serif CJK SC',serif;color:#111;transform:translate(0,-50%) scaleX(1.0758);transform-origin:0 50%;"><i>S</i><span style="font-size:0.7em;position:relative;top:0.22em;margin-left:0.02em">2</span>(0,<span style="margin-left:.16em"><i>t</i></span>)</div>
<div class="t" style="left:487.8px;top:574.4px;font:400 24px/1 'Liberation Serif','Noto Serif CJK SC',serif;color:#111;transform:translate(0,-50%) scaleX(1.0714);transform-origin:0 50%;"><i>ϕ</i><span style="font-size:0.7em;position:relative;top:0.2em">1</span><span style="margin:0 0.22em;font-size:1.17em;position:relative;top:0.13em;line-height:0">=</span><i>ϕ</i><span style="font-size:0.7em;position:relative;top:0.2em">2</span></div>
<div class="t" style="left:88.3px;top:652.8px;font:400 31.5px/1 'Noto Sans CJK SC','Liberation Sans',sans-serif;color:#111;transform:translate(0,-50%) scaleX(1.0181);transform-origin:0 50%;">分组时延分别为</div>
<div class="t" style="left:329.4px;top:653.3px;font:400 32.5px/1 'Liberation Serif','Noto Serif CJK SC',serif;color:#111;transform:translate(0,-50%) scaleX(0.9603);transform-origin:0 50%;">{2, 3, 6, 2}</div>
<div class="t" style="left:481.2px;top:652.8px;font:400 31.5px/1 'Noto Sans CJK SC','Liberation Sans',sans-serif;color:#111;transform:translate(0,-50%) scaleX(0.9519);transform-origin:0 50%;">和</div>
<div class="t" style="left:525.4px;top:653.3px;font:400 32.5px/1 'Liberation Serif','Noto Serif CJK SC',serif;color:#111;transform:translate(0,-50%) scaleX(0.9391);transform-origin:0 50%;">{5, 4, 2}</div>
<div class="t" style="left:635.5px;top:652.8px;font:400 31.5px/1 'Noto Sans CJK SC','Liberation Sans',sans-serif;color:#111;transform:translate(0,-50%);transform-origin:0 50%;">；</div>
<div class="t" style="left:671.3px;top:653.3px;font:400 32.5px/1 'Liberation Serif','Noto Serif CJK SC',serif;color:#111;transform:translate(0,-50%) scaleX(1.1074);transform-origin:0 50%;"><i>t</i> = 13</div>
<div class="t" style="left:768.5px;top:652.8px;font:400 31.5px/1 'Noto Sans CJK SC','Liberation Sans',sans-serif;color:#111;transform:translate(0,-50%) scaleX(1.0157);transform-origin:0 50%;">完成。</div></div>
<!-- WFQ reference picture -->
<div id="wfqimg"><div class="abs" style="left:1053px;top:318px;width:1395px;height:358.500px;background:#fff;border:3px solid #2f4d7c;border-right:0;border-bottom-width:3px;box-shadow:0 0 9px 2px rgba(70,125,215,.42)"></div>
<svg style="left:0;top:0" width="2448" height="1873"><path d="M1087.10 321V674M1103.95 321V674M1137.65 321V674M1154.50 321V674M1171.35 321V674M1188.20 321V674M1205.05 321V674M1221.90 321V674M1238.75 321V674M1272.45 321V674M1289.30 321V674M1306.15 321V674M1323.00 321V674M1339.85 321V674M1356.70 321V674M1373.55 321V674M1407.25 321V674M1424.10 321V674M1440.95 321V674M1457.80 321V674M1474.65 321V674M1491.50 321V674M1508.35 321V674M1542.05 321V674M1558.90 321V674M1575.75 321V674M1592.60 321V674M1609.45 321V674M1626.30 321V674M1643.15 321V674M1676.85 321V674M1693.70 321V674M1710.55 321V674M1727.40 321V674M1744.25 321V674M1761.10 321V674M1777.95 321V674M1811.65 321V674M1828.50 321V674M1845.35 321V674M1862.20 321V674M1879.05 321V674M1895.90 321V674M1912.75 321V674M1946.45 321V674M1963.30 321V674M1980.15 321V674M1997.00 321V674M2013.85 321V674M2030.70 321V674M2047.55 321V674M2081.25 321V674M2098.10 321V674M2114.95 321V674M2131.80 321V674M2148.65 321V674M2165.50 321V674M2182.35 321V674M2216.05 321V674M2232.90 321V674M2249.75 321V674M2266.60 321V674M2283.45 321V674M2300.30 321V674M2317.15 321V674M2350.85 321V674M2367.70 321V674M2384.55 321V674M2401.40 321V674M2418.25 321V674M2435.10 321V674M1073 337.95H2436.6M1073 371.65H2436.6M1073 388.50H2436.6M1073 405.35H2436.6M1073 422.20H2436.6M1073 439.05H2436.6M1073 455.90H2436.6M1073 472.75H2436.6M1073 506.45H2436.6M1073 523.30H2436.6M1073 540.15H2436.6M1073 557.00H2436.6M1073 573.85H2436.6M1073 590.70H2436.6M1073 607.55H2436.6M1073 641.25H2436.6M1073 658.10H2436.6" stroke="#e3e3e3" stroke-width="1.6" fill="none"/><path d="M1120.80 321V674M1255.60 321V674M1390.40 321V674M1525.20 321V674M1660.00 321V674M1794.80 321V674M1929.60 321V674M2064.40 321V674M2199.20 321V674M2334.00 321V674M1073 354.80H2436.6M1073 489.60H2436.6M1073 624.40H2436.6" stroke="#cbcbcb" stroke-width="1.9" fill="none"/><path d="M1120.8 388.5H1558.9" stroke="#6a6a6a" stroke-width="1.5" stroke-dasharray="8.4 6.6"/><path d="M1120.8 455.9H1356.7" stroke="#6a6a6a" stroke-width="1.5" stroke-dasharray="8.4 6.6"/><path d="M1120.8 523.3H1289.3" stroke="#6a6a6a" stroke-width="1.5" stroke-dasharray="8.4 6.6"/><path d="M1120.8 557.0H1221.9" stroke="#6a6a6a" stroke-width="1.5" stroke-dasharray="8.4 6.6"/><path d="M1120.8 590.7V339.5 M1120.8 590.7H1692.7" stroke="#7f7f7f" stroke-width="2.0" fill="none"/><path d="M1120.8 323.0l-6.4 17.5h12.8Z" fill="#7f7f7f"/><path d="M1709.2 590.7l-17.5 -6.4v12.8Z" fill="#7f7f7f"/><path d="M1154.5 590.7v16.5" stroke="#7f7f7f" stroke-width="1.8"/><path d="M1188.2 590.7v16.5" stroke="#7f7f7f" stroke-width="1.8"/><path d="M1221.9 590.7v16.5" stroke="#7f7f7f" stroke-width="1.8"/><path d="M1255.6 590.7v16.5" stroke="#7f7f7f" stroke-width="1.8"/><path d="M1289.3 590.7v16.5" stroke="#7f7f7f" stroke-width="1.8"/><path d="M1323.0 590.7v16.5" stroke="#7f7f7f" stroke-width="1.8"/><path d="M1356.7 590.7v16.5" stroke="#7f7f7f" stroke-width="1.8"/><path d="M1390.4 590.7v16.5" stroke="#7f7f7f" stroke-width="1.8"/><path d="M1424.1 590.7v16.5" stroke="#7f7f7f" stroke-width="1.8"/><path d="M1457.8 590.7v16.5" stroke="#7f7f7f" stroke-width="1.8"/><path d="M1491.5 590.7v16.5" stroke="#7f7f7f" stroke-width="1.8"/><path d="M1525.2 590.7v16.5" stroke="#7f7f7f" stroke-width="1.8"/><path d="M1558.9 590.7v16.5" stroke="#7f7f7f" stroke-width="1.8"/><path d="M1592.6 590.7v16.5" stroke="#7f7f7f" stroke-width="1.8"/><path d="M1626.3 590.7v16.5" stroke="#7f7f7f" stroke-width="1.8"/><path d="M1120.8 557.0h-16.5" stroke="#7f7f7f" stroke-width="1.8"/><path d="M1120.8 523.3h-16.5" stroke="#7f7f7f" stroke-width="1.8"/><path d="M1120.8 489.6h-16.5" stroke="#7f7f7f" stroke-width="1.8"/><path d="M1120.8 455.9h-16.5" stroke="#7f7f7f" stroke-width="1.8"/><path d="M1120.8 422.2h-16.5" stroke="#7f7f7f" stroke-width="1.8"/><path d="M1120.8 388.5h-16.5" stroke="#7f7f7f" stroke-width="1.8"/><path d="M1120.8 354.8h-16.5" stroke="#7f7f7f" stroke-width="1.8"/><path d="M1154.5 590.7 L1424.1 455.9" stroke="#000" stroke-width="3.3" fill="none" stroke-linejoin="round" stroke-linecap="round"/><path d="M1120.8 590.7 L1154.5 590.7 L1154.5 557.0 L1188.2 557.0 L1188.2 523.3 L1221.9 523.3 L1221.9 455.9 L1491.5 455.9 L1491.5 388.5 L1626.3 388.5" stroke="#ff7b7b" stroke-width="3.7" fill="none" stroke-dasharray="13.8 16" stroke-linecap="round" stroke-linejoin="round"/><path d="M1120.8 590.7 L1221.9 590.7 L1356.7 455.9 L1491.5 455.9 L1558.9 388.5 L1626.3 388.5" stroke="#1e96f0" stroke-width="3.6" fill="none" stroke-linejoin="round" stroke-linecap="round"/><path d="M1845.4 354.8H2216.1" stroke="#6a6a6a" stroke-width="1.5" stroke-dasharray="8.4 6.6"/><path d="M1845.4 422.2H2148.7" stroke="#6a6a6a" stroke-width="1.5" stroke-dasharray="8.4 6.6"/><path d="M1845.4 489.6H1946.5" stroke="#6a6a6a" stroke-width="1.5" stroke-dasharray="8.4 6.6"/><path d="M1845.4 590.7V339.5 M1845.4 590.7H2416.9" stroke="#7f7f7f" stroke-width="2.0" fill="none"/><path d="M1845.4 323.0l-6.4 17.5h12.8Z" fill="#7f7f7f"/><path d="M2433.4 590.7l-17.5 -6.4v12.8Z" fill="#7f7f7f"/><path d="M1879.1 590.7v16.5" stroke="#7f7f7f" stroke-width="1.8"/><path d="M1912.8 590.7v16.5" stroke="#7f7f7f" stroke-width="1.8"/><path d="M1946.5 590.7v16.5" stroke="#7f7f7f" stroke-width="1.8"/><path d="M1980.2 590.7v16.5" stroke="#7f7f7f" stroke-width="1.8"/><path d="M2013.9 590.7v16.5" stroke="#7f7f7f" stroke-width="1.8"/><path d="M2047.6 590.7v16.5" stroke="#7f7f7f" stroke-width="1.8"/><path d="M2081.3 590.7v16.5" stroke="#7f7f7f" stroke-width="1.8"/><path d="M2115.0 590.7v16.5" stroke="#7f7f7f" stroke-width="1.8"/><path d="M2148.7 590.7v16.5" stroke="#7f7f7f" stroke-width="1.8"/><path d="M2182.4 590.7v16.5" stroke="#7f7f7f" stroke-width="1.8"/><path d="M2216.1 590.7v16.5" stroke="#7f7f7f" stroke-width="1.8"/><path d="M2249.8 590.7v16.5" stroke="#7f7f7f" stroke-width="1.8"/><path d="M2283.5 590.7v16.5" stroke="#7f7f7f" stroke-width="1.8"/><path d="M2317.2 590.7v16.5" stroke="#7f7f7f" stroke-width="1.8"/><path d="M2350.9 590.7v16.5" stroke="#7f7f7f" stroke-width="1.8"/><path d="M1845.4 557.0h-16.5" stroke="#7f7f7f" stroke-width="1.8"/><path d="M1845.4 523.3h-16.5" stroke="#7f7f7f" stroke-width="1.8"/><path d="M1845.4 489.6h-16.5" stroke="#7f7f7f" stroke-width="1.8"/><path d="M1845.4 455.9h-16.5" stroke="#7f7f7f" stroke-width="1.8"/><path d="M1845.4 422.2h-16.5" stroke="#7f7f7f" stroke-width="1.8"/><path d="M1845.4 388.5h-16.5" stroke="#7f7f7f" stroke-width="1.8"/><path d="M1845.4 354.8h-16.5" stroke="#7f7f7f" stroke-width="1.8"/><path d="M1879.1 557.0 L2148.7 422.2" stroke="#000" stroke-width="3.3" fill="none" stroke-linejoin="round" stroke-linecap="round"/><path d="M1845.4 590.7 L1845.4 489.6 L2013.9 489.6 L2013.9 422.2 L2148.7 422.2 L2148.7 354.8 L2350.9 354.8" stroke="#ff7b7b" stroke-width="3.7" fill="none" stroke-dasharray="13.8 16" stroke-linecap="round" stroke-linejoin="round"/><path d="M1845.4 590.7 L1946.5 489.6 L2081.3 489.6 L2216.1 354.8 L2350.9 354.8" stroke="#1e96f0" stroke-width="3.6" fill="none" stroke-linejoin="round" stroke-linecap="round"/><path d="M1238.0 421.8L1249.5 433.2" stroke="#ff6b6b" stroke-width="1.7" fill="none"/><path d="M1254.0 437.7L1249.9 427.0L1249.5 433.2L1243.2 433.6Z" fill="#ff6b6b"/><path d="M2013.2 389.0L2023.9 399.2" stroke="#ff6b6b" stroke-width="1.7" fill="none"/><path d="M2028.5 403.6L2024.1 393.0L2023.9 399.2L2017.7 399.7Z" fill="#ff6b6b"/><path d="M1152.500 322.600L1158 320.400" stroke="#ff1a1a" stroke-width="2.4" stroke-linecap="round"/></svg>
<div class="t" style="left:1088.3px;top:559.6px;font:400 18px/1 'Liberation Sans','Noto Sans CJK SC',sans-serif;color:#111;transform:translate(-50%,-50%);transform-origin:50% 50%;">1</div>
<div class="t" style="left:1808.8px;top:559.6px;font:400 18px/1 'Liberation Sans','Noto Sans CJK SC',sans-serif;color:#111;transform:translate(-50%,-50%);transform-origin:50% 50%;">1</div>
<div class="t" style="left:1088.3px;top:525.9px;font:400 18px/1 'Liberation Sans','Noto Sans CJK SC',sans-serif;color:#111;transform:translate(-50%,-50%);transform-origin:50% 50%;">2</div>
<div class="t" style="left:1808.8px;top:525.9px;font:400 18px/1 'Liberation Sans','Noto Sans CJK SC',sans-serif;color:#111;transform:translate(-50%,-50%);transform-origin:50% 50%;">2</div>
<div class="t" style="left:1088.3px;top:492.2px;font:400 18px/1 'Liberation Sans','Noto Sans CJK SC',sans-serif;color:#111;transform:translate(-50%,-50%);transform-origin:50% 50%;">3</div>
<div class="t" style="left:1808.8px;top:492.2px;font:400 18px/1 'Liberation Sans','Noto Sans CJK SC',sans-serif;color:#111;transform:translate(-50%,-50%);transform-origin:50% 50%;">3</div>
<div class="t" style="left:1088.3px;top:458.5px;font:400 18px/1 'Liberation Sans','Noto Sans CJK SC',sans-serif;color:#111;transform:translate(-50%,-50%);transform-origin:50% 50%;">4</div>
<div class="t" style="left:1808.8px;top:458.5px;font:400 18px/1 'Liberation Sans','Noto Sans CJK SC',sans-serif;color:#111;transform:translate(-50%,-50%);transform-origin:50% 50%;">4</div>
<div class="t" style="left:1088.3px;top:424.8px;font:400 18px/1 'Liberation Sans','Noto Sans CJK SC',sans-serif;color:#111;transform:translate(-50%,-50%);transform-origin:50% 50%;">5</div>
<div class="t" style="left:1808.8px;top:424.8px;font:400 18px/1 'Liberation Sans','Noto Sans CJK SC',sans-serif;color:#111;transform:translate(-50%,-50%);transform-origin:50% 50%;">5</div>
<div class="t" style="left:1088.3px;top:391.1px;font:400 18px/1 'Liberation Sans','Noto Sans CJK SC',sans-serif;color:#111;transform:translate(-50%,-50%);transform-origin:50% 50%;">6</div>
<div class="t" style="left:1808.8px;top:391.1px;font:400 18px/1 'Liberation Sans','Noto Sans CJK SC',sans-serif;color:#111;transform:translate(-50%,-50%);transform-origin:50% 50%;">6</div>
<div class="t" style="left:1088.3px;top:357.4px;font:400 18px/1 'Liberation Sans','Noto Sans CJK SC',sans-serif;color:#111;transform:translate(-50%,-50%);transform-origin:50% 50%;">7</div>
<div class="t" style="left:1808.8px;top:357.4px;font:400 18px/1 'Liberation Sans','Noto Sans CJK SC',sans-serif;color:#111;transform:translate(-50%,-50%);transform-origin:50% 50%;">7</div>
<div class="t" style="left:1120.8px;top:630.3px;font:400 18px/1 'Liberation Sans','Noto Sans CJK SC',sans-serif;color:#111;transform:translate(-50%,-50%);transform-origin:50% 50%;">0</div>
<div class="t" style="left:1845.4px;top:630.3px;font:400 18px/1 'Liberation Sans','Noto Sans CJK SC',sans-serif;color:#111;transform:translate(-50%,-50%);transform-origin:50% 50%;">0</div>
<div class="t" style="left:1154.5px;top:630.3px;font:400 18px/1 'Liberation Sans','Noto Sans CJK SC',sans-serif;color:#111;transform:translate(-50%,-50%);transform-origin:50% 50%;">1</div>
<div class="t" style="left:1879.1px;top:630.3px;font:400 18px/1 'Liberation Sans','Noto Sans CJK SC',sans-serif;color:#111;transform:translate(-50%,-50%);transform-origin:50% 50%;">1</div>
<div class="t" style="left:1188.2px;top:630.3px;font:400 18px/1 'Liberation Sans','Noto Sans CJK SC',sans-serif;color:#111;transform:translate(-50%,-50%);transform-origin:50% 50%;">2</div>
<div class="t" style="left:1912.8px;top:630.3px;font:400 18px/1 'Liberation Sans','Noto Sans CJK SC',sans-serif;color:#111;transform:translate(-50%,-50%);transform-origin:50% 50%;">2</div>
<div class="t" style="left:1221.9px;top:630.3px;font:400 18px/1 'Liberation Sans','Noto Sans CJK SC',sans-serif;color:#111;transform:translate(-50%,-50%);transform-origin:50% 50%;">3</div>
<div class="t" style="left:1946.5px;top:630.3px;font:400 18px/1 'Liberation Sans','Noto Sans CJK SC',sans-serif;color:#111;transform:translate(-50%,-50%);transform-origin:50% 50%;">3</div>
<div class="t" style="left:1255.6px;top:630.3px;font:400 18px/1 'Liberation Sans','Noto Sans CJK SC',sans-serif;color:#111;transform:translate(-50%,-50%);transform-origin:50% 50%;">4</div>
<div class="t" style="left:1980.2px;top:630.3px;font:400 18px/1 'Liberation Sans','Noto Sans CJK SC',sans-serif;color:#111;transform:translate(-50%,-50%);transform-origin:50% 50%;">4</div>
<div class="t" style="left:1289.3px;top:630.3px;font:400 18px/1 'Liberation Sans','Noto Sans CJK SC',sans-serif;color:#111;transform:translate(-50%,-50%);transform-origin:50% 50%;">5</div>
<div class="t" style="left:2013.9px;top:630.3px;font:400 18px/1 'Liberation Sans','Noto Sans CJK SC',sans-serif;color:#111;transform:translate(-50%,-50%);transform-origin:50% 50%;">5</div>
<div class="t" style="left:1323.0px;top:630.3px;font:400 18px/1 'Liberation Sans','Noto Sans CJK SC',sans-serif;color:#111;transform:translate(-50%,-50%);transform-origin:50% 50%;">6</div>
<div class="t" style="left:2047.6px;top:630.3px;font:400 18px/1 'Liberation Sans','Noto Sans CJK SC',sans-serif;color:#111;transform:translate(-50%,-50%);transform-origin:50% 50%;">6</div>
<div class="t" style="left:1356.7px;top:630.3px;font:400 18px/1 'Liberation Sans','Noto Sans CJK SC',sans-serif;color:#111;transform:translate(-50%,-50%);transform-origin:50% 50%;">7</div>
<div class="t" style="left:2081.3px;top:630.3px;font:400 18px/1 'Liberation Sans','Noto Sans CJK SC',sans-serif;color:#111;transform:translate(-50%,-50%);transform-origin:50% 50%;">7</div>
<div class="t" style="left:1390.4px;top:630.3px;font:400 18px/1 'Liberation Sans','Noto Sans CJK SC',sans-serif;color:#111;transform:translate(-50%,-50%);transform-origin:50% 50%;">8</div>
<div class="t" style="left:2115.0px;top:630.3px;font:400 18px/1 'Liberation Sans','Noto Sans CJK SC',sans-serif;color:#111;transform:translate(-50%,-50%);transform-origin:50% 50%;">8</div>
<div class="t" style="left:1424.1px;top:630.3px;font:400 18px/1 'Liberation Sans','Noto Sans CJK SC',sans-serif;color:#111;transform:translate(-50%,-50%);transform-origin:50% 50%;">9</div>
<div class="t" style="left:2148.7px;top:630.3px;font:400 18px/1 'Liberation Sans','Noto Sans CJK SC',sans-serif;color:#111;transform:translate(-50%,-50%);transform-origin:50% 50%;">9</div>
<div class="t" style="left:1457.8px;top:630.3px;font:400 18px/1 'Liberation Sans','Noto Sans CJK SC',sans-serif;color:#111;transform:translate(-50%,-50%);transform-origin:50% 50%;">10</div>
<div class="t" style="left:2182.4px;top:630.3px;font:400 18px/1 'Liberation Sans','Noto Sans CJK SC',sans-serif;color:#111;transform:translate(-50%,-50%);transform-origin:50% 50%;">10</div>
<div class="t" style="left:1491.5px;top:630.3px;font:400 18px/1 'Liberation Sans','Noto Sans CJK SC',sans-serif;color:#111;transform:translate(-50%,-50%);transform-origin:50% 50%;">11</div>
<div class="t" style="left:2216.1px;top:630.3px;font:400 18px/1 'Liberation Sans','Noto Sans CJK SC',sans-serif;color:#111;transform:translate(-50%,-50%);transform-origin:50% 50%;">11</div>
<div class="t" style="left:1525.2px;top:630.3px;font:400 18px/1 'Liberation Sans','Noto Sans CJK SC',sans-serif;color:#111;transform:translate(-50%,-50%);transform-origin:50% 50%;">12</div>
<div class="t" style="left:2249.8px;top:630.3px;font:400 18px/1 'Liberation Sans','Noto Sans CJK SC',sans-serif;color:#111;transform:translate(-50%,-50%);transform-origin:50% 50%;">12</div>
<div class="t" style="left:1558.9px;top:630.3px;font:400 18px/1 'Liberation Sans','Noto Sans CJK SC',sans-serif;color:#111;transform:translate(-50%,-50%);transform-origin:50% 50%;">13</div>
<div class="t" style="left:2283.5px;top:630.3px;font:400 18px/1 'Liberation Sans','Noto Sans CJK SC',sans-serif;color:#111;transform:translate(-50%,-50%);transform-origin:50% 50%;">13</div>
<div class="t" style="left:1592.6px;top:630.3px;font:400 18px/1 'Liberation Sans','Noto Sans CJK SC',sans-serif;color:#111;transform:translate(-50%,-50%);transform-origin:50% 50%;">14</div>
<div class="t" style="left:2317.2px;top:630.3px;font:400 18px/1 'Liberation Sans','Noto Sans CJK SC',sans-serif;color:#111;transform:translate(-50%,-50%);transform-origin:50% 50%;">14</div>
<div class="t" style="left:1626.3px;top:630.3px;font:400 18px/1 'Liberation Sans','Noto Sans CJK SC',sans-serif;color:#111;transform:translate(-50%,-50%);transform-origin:50% 50%;">15</div>
<div class="t" style="left:2350.9px;top:630.3px;font:400 18px/1 'Liberation Sans','Noto Sans CJK SC',sans-serif;color:#111;transform:translate(-50%,-50%);transform-origin:50% 50%;">15</div>
<div class="t" style="left:1143.0px;top:403.9px;font:400 31px/1 'Liberation Serif','Noto Serif CJK SC',serif;color:#8b1a1a;transform:translate(0,-50%) scaleX(1.1096);transform-origin:0 50%;"><i>A</i><span style="font-size:0.7em;position:relative;top:0.22em;margin-left:0.02em">1</span>(0,<span style="margin-left:.16em"><i>t</i></span>)</div>
<div class="t" style="left:1367.2px;top:504.7px;font:400 31px/1 'Liberation Serif','Noto Serif CJK SC',serif;color:#111;transform:translate(0,-50%) scaleX(1.0896);transform-origin:0 50%;"><i>S</i><span style="font-size:0.7em;position:relative;top:0.22em;margin-left:0.02em">1</span>(0,<span style="margin-left:.16em"><i>t</i></span>)</div>
<div class="t" style="left:1529.8px;top:455.1px;font:400 31px/1 'Liberation Serif','Noto Serif CJK SC',serif;color:#1e8ef0;transform:translate(0,-50%) scaleX(1.0777);transform-origin:0 50%;"><i>Ŝ</i><span style="font-size:0.7em;position:relative;top:0.22em;margin-left:0.02em">1</span>(0,<span style="margin-left:.16em"><i>t</i></span>)</div>
<div class="t" style="left:1918.5px;top:369.4px;font:400 31px/1 'Liberation Serif','Noto Serif CJK SC',serif;color:#8b1a1a;transform:translate(0,-50%) scaleX(1.0834);transform-origin:0 50%;"><i>A</i><span style="font-size:0.7em;position:relative;top:0.22em;margin-left:0.02em">2</span>(0,<span style="margin-left:.16em"><i>t</i></span>)</div>
<div class="t" style="left:1959.3px;top:536.5px;font:400 31px/1 'Liberation Serif','Noto Serif CJK SC',serif;color:#111;transform:translate(0,-50%) scaleX(1.0861);transform-origin:0 50%;"><i>S</i><span style="font-size:0.7em;position:relative;top:0.22em;margin-left:0.02em">2</span>(0,<span style="margin-left:.16em"><i>t</i></span>)</div>
<div class="t" style="left:2178.3px;top:421.5px;font:400 31px/1 'Liberation Serif','Noto Serif CJK SC',serif;color:#1e8ef0;transform:translate(0,-50%) scaleX(1.0861);transform-origin:0 50%;"><i>Ŝ</i><span style="font-size:0.7em;position:relative;top:0.22em;margin-left:0.02em">2</span>(0,<span style="margin-left:.16em"><i>t</i></span>)</div>
<div class="t" style="left:1692.3px;top:652.2px;font:400 32px/1 'Liberation Serif','Noto Serif CJK SC',serif;color:#111;transform:translate(0,-50%) scaleX(1.0708);transform-origin:0 50%;"><i>ϕ</i><span style="font-size:0.7em;position:relative;top:0.2em">1</span><span style="margin:0 0.22em;font-size:1.17em;position:relative;top:0.13em;line-height:0">=</span><i>ϕ</i><span style="font-size:0.7em;position:relative;top:0.2em">2</span></div></div>
<!-- application window -->
<div id="app"><div class="abs" style="left:209.500px;top:690.500px;width:1814.500px;height:1181px;background:#1f1f1f;border-radius:11px;box-shadow:0 4px 26px 4px rgba(0,0,0,.38)"></div>
<svg style="left:0;top:0" width="2448" height="1873"><rect x="210" y="691" width="1813.500" height="1180" rx="10.500" fill="none" stroke="#525455" stroke-width="1.6"/></svg>
<svg style="left:221px;top:699px" width="26" height="26"><circle cx="12.800" cy="13.100" r="9.700" fill="#232323" stroke="#c6c6c6" stroke-width="3"/><circle cx="12.800" cy="13.100" r="11.100" fill="none" stroke="#9a9a9a" stroke-width="0.6"/><path d="M6 13L12.800 8.800L19.600 13L17.800 15.800L12.800 12.600L7.800 15.800Z" fill="#62ab7d"/></svg>
<div class="t" style="left:255.0px;top:711.4px;font:400 18.4px/1 'Noto Sans CJK SC','Liberation Sans',sans-serif;color:#868686;transform:translate(0,-50%) scaleX(0.9809);transform-origin:0 50%;">通信网理论基础作业@陈义</div>
<div class="t" style="left:504.8px;top:711.4px;font:400 18.4px/1 'Noto Sans CJK SC','Liberation Sans',sans-serif;color:#868686;transform:translate(0,-50%) scaleX(0.9583);transform-origin:0 50%;">学号：2430310028</div>
<div class="t" style="left:675.9px;top:711.4px;font:400 18.4px/1 'Noto Sans CJK SC','Liberation Sans',sans-serif;color:#868686;transform:translate(0,-50%) scaleX(0.9323);transform-origin:0 50%;">邮箱：honevid@qq.com</div>
<div class="t" style="left:890.1px;top:711.4px;font:400 18.4px/1 'Noto Sans CJK SC','Liberation Sans',sans-serif;color:#868686;transform:translate(0,-50%) scaleX(0.9744);transform-origin:0 50%;">支持最多10个业务的调度</div>
<svg style="left:1830px;top:700px" width="180" height="26"><path d="M11 12.500H27" stroke="#6f6f6f" stroke-width="1.3"/><rect x="80.700" y="5.700" width="13.600" height="13.600" rx="2" fill="none" stroke="#8d8d8d" stroke-width="1.4"/><path d="M151.300 5.300L166 20M166 5.300L151.300 20" stroke="#8d8d8d" stroke-width="1.4"/></svg>
<div class="abs" style="left:224.4px;top:747.8px;width:949.4px;height:533.4px;background:#fff;border-radius:9px"></div>
<svg style="left:0;top:0" width="2448" height="1873"><path d="M374.3 820.2V1123.4M424.3 820.2V1123.4M474.3 820.2V1123.4M574.3 820.2V1123.4M624.3 820.2V1123.4M674.3 820.2V1123.4M774.4 820.2V1123.4M824.4 820.2V1123.4M874.4 820.2V1123.4M974.4 820.2V1123.4M1024.4 820.2V1123.4M1074.4 820.2V1123.4M321.3 1082.9H1124.4M321.3 1007.8H1124.4M321.3 932.8H1124.4M321.3 857.7H1124.4" stroke="#e3e3e3" stroke-width="1.8" stroke-dasharray="5.400 2.700" fill="none"/><path d="M324.3 820.2V1125.9M524.3 820.2V1125.9M724.4 820.2V1125.9M924.4 820.2V1125.9M1124.4 820.2V1125.9M317.3 1120.4H1124.4M317.3 1045.4H1124.4M317.3 970.3H1124.4M317.3 895.2H1124.4M317.3 820.2H1124.4" stroke="#dddddd" stroke-width="1.7" fill="none"/><path d="M324.3 820.2V1120.4H1124.4" stroke="#d8d8d8" stroke-width="2.2" fill="none"/><path d="M324.3 1120.4 L474.3 1120.4 L674.3 970.3 L874.4 970.3 L974.4 895.2 L1051.4 895.2" stroke="#ff0000" stroke-width="2.9" fill="none" stroke-linejoin="round" stroke-linecap="butt" stroke-dasharray="16.500 4.500"/><path d="M324.3 1120.4 L474.3 1007.8 L674.3 1007.8 L874.4 857.7 L1051.4 857.7" stroke="#00ff00" stroke-width="2.9" fill="none" stroke-linejoin="round" stroke-linecap="butt" stroke-dasharray="16.500 4.500"/><rect x="613.800" y="1215.2" width="10.600" height="10.600" rx="1" fill="#ff0000" stroke="#000" stroke-width="1.5"/><rect x="693.400" y="1215.2" width="10.600" height="10.600" rx="1" fill="#00ff00" stroke="#000" stroke-width="1.5"/></svg>
<div class="t" style="left:698.6px;top:791.4px;font:400 17.3px/1 'Noto Sans CJK SC','Liberation Sans',sans-serif;color:#3a3d44;transform:translate(-50%,-50%) scaleX(1.0670);transform-origin:50% 50%;">WFQ算法执行情况</div>
<div class="t" style="left:315.6px;top:1119.9px;font:400 19.3px/1 'Noto Sans CJK SC','Liberation Sans',sans-serif;color:#3a3d44;transform:translate(-100%,-50%) scaleX(0.9527);transform-origin:100% 50%;">0.0</div>
<div class="t" style="left:324.3px;top:1138.7px;font:400 19.3px/1 'Noto Sans CJK SC','Liberation Sans',sans-serif;color:#3a3d44;transform:translate(-50%,-50%) scaleX(0.9527);transform-origin:50% 50%;">0.0</div>
<div class="t" style="left:315.6px;top:1044.9px;font:400 19.3px/1 'Noto Sans CJK SC','Liberation Sans',sans-serif;color:#3a3d44;transform:translate(-100%,-50%) scaleX(0.9527);transform-origin:100% 50%;">2.0</div>
<div class="t" style="left:524.3px;top:1138.7px;font:400 19.3px/1 'Noto Sans CJK SC','Liberation Sans',sans-serif;color:#3a3d44;transform:translate(-50%,-50%) scaleX(0.9527);transform-origin:50% 50%;">4.0</div>
<div class="t" style="left:315.6px;top:969.8px;font:400 19.3px/1 'Noto Sans CJK SC','Liberation Sans',sans-serif;color:#3a3d44;transform:translate(-100%,-50%) scaleX(0.9527);transform-origin:100% 50%;">4.0</div>
<div class="t" style="left:724.4px;top:1138.7px;font:400 19.3px/1 'Noto Sans CJK SC','Liberation Sans',sans-serif;color:#3a3d44;transform:translate(-50%,-50%) scaleX(0.9527);transform-origin:50% 50%;">8.0</div>
<div class="t" style="left:315.6px;top:894.8px;font:400 19.3px/1 'Noto Sans CJK SC','Liberation Sans',sans-serif;color:#3a3d44;transform:translate(-100%,-50%) scaleX(0.9527);transform-origin:100% 50%;">6.0</div>
<div class="t" style="left:924.4px;top:1138.7px;font:400 19.3px/1 'Noto Sans CJK SC','Liberation Sans',sans-serif;color:#3a3d44;transform:translate(-50%,-50%) scaleX(0.9475);transform-origin:50% 50%;">12.0</div>
<div class="t" style="left:315.6px;top:819.7px;font:400 19.3px/1 'Noto Sans CJK SC','Liberation Sans',sans-serif;color:#3a3d44;transform:translate(-100%,-50%) scaleX(0.9527);transform-origin:100% 50%;">8.0</div>
<div class="t" style="left:1124.4px;top:1138.7px;font:400 19.3px/1 'Noto Sans CJK SC','Liberation Sans',sans-serif;color:#3a3d44;transform:translate(-50%,-50%) scaleX(0.9475);transform-origin:50% 50%;">16.0</div>
<div class="t" style="left:724.6px;top:1170.5px;font:700 18.6px/1 'Noto Sans CJK SC','Liberation Sans',sans-serif;color:#2f3136;transform:translate(-50%,-50%);transform-origin:50% 50%;">时间</div>
<div class="t" style="left:270.600px;top:970.3px;font:700 18.600px/1 'Noto Sans CJK SC','Liberation Sans',sans-serif;color:#2f3136;transform:translate(-50%,-50%) rotate(-90deg)">完成度</div>
<div class="t" style="left:632.6px;top:1218.7px;font:400 17.3px/1 'Noto Sans CJK SC','Liberation Sans',sans-serif;color:#3a3d44;transform:translate(0,-50%) scaleX(1.0191);transform-origin:0 50%;">业务1</div>
<div class="t" style="left:712.3px;top:1218.7px;font:400 17.3px/1 'Noto Sans CJK SC','Liberation Sans',sans-serif;color:#3a3d44;transform:translate(0,-50%) scaleX(1.0304);transform-origin:0 50%;">业务2</div>
<div class="abs" style="left:224.4px;top:1316.8px;width:949.4px;height:531.0px;background:#fff;border-radius:9px"></div>
<svg style="left:0;top:0" width="2448" height="1873"><path d="M374.3 1388.8V1690.1M424.3 1388.8V1690.1M474.3 1388.8V1690.1M574.3 1388.8V1690.1M624.3 1388.8V1690.1M674.3 1388.8V1690.1M774.4 1388.8V1690.1M824.4 1388.8V1690.1M874.4 1388.8V1690.1M974.4 1388.8V1690.1M1024.4 1388.8V1690.1M1074.4 1388.8V1690.1M321.3 1649.8H1124.4M321.3 1575.2H1124.4M321.3 1500.7H1124.4M321.3 1426.1H1124.4" stroke="#e3e3e3" stroke-width="1.8" stroke-dasharray="5.400 2.700" fill="none"/><path d="M324.3 1388.8V1692.6M524.3 1388.8V1692.6M724.4 1388.8V1692.6M924.4 1388.8V1692.6M1124.4 1388.8V1692.6M317.3 1687.1H1124.4M317.3 1612.5H1124.4M317.3 1537.9H1124.4M317.3 1463.4H1124.4M317.3 1388.8H1124.4" stroke="#dddddd" stroke-width="1.7" fill="none"/><path d="M324.3 1388.8V1687.1H1124.4" stroke="#d8d8d8" stroke-width="2.2" fill="none"/><path d="M324.3 1687.1 L374.3 1687.1 L774.4 1537.9 L874.4 1537.9 L974.4 1463.4 L1051.4 1463.4" stroke="#ff0000" stroke-width="4.0" fill="none" stroke-linejoin="round" stroke-linecap="round"/><path d="M324.3 1687.1 L374.3 1649.8 L774.4 1500.7 L874.4 1426.1 L1051.4 1426.1" stroke="#00ff00" stroke-width="4.0" fill="none" stroke-linejoin="round" stroke-linecap="round"/><rect x="613.800" y="1781.1" width="10.600" height="10.600" rx="1" fill="#ff0000" stroke="#000" stroke-width="1.5"/><rect x="693.400" y="1781.1" width="10.600" height="10.600" rx="1" fill="#00ff00" stroke="#000" stroke-width="1.5"/></svg>
<div class="t" style="left:698.6px;top:1360.4px;font:400 17.3px/1 'Noto Sans CJK SC','Liberation Sans',sans-serif;color:#3a3d44;transform:translate(-50%,-50%) scaleX(1.0391);transform-origin:50% 50%;">GPS算法执行情况</div>
<div class="t" style="left:315.6px;top:1686.6px;font:400 19.3px/1 'Noto Sans CJK SC','Liberation Sans',sans-serif;color:#3a3d44;transform:translate(-100%,-50%) scaleX(0.9527);transform-origin:100% 50%;">0.0</div>
<div class="t" style="left:324.3px;top:1705.7px;font:400 19.3px/1 'Noto Sans CJK SC','Liberation Sans',sans-serif;color:#3a3d44;transform:translate(-50%,-50%) scaleX(0.9527);transform-origin:50% 50%;">0.0</div>
<div class="t" style="left:315.6px;top:1612.0px;font:400 19.3px/1 'Noto Sans CJK SC','Liberation Sans',sans-serif;color:#3a3d44;transform:translate(-100%,-50%) scaleX(0.9527);transform-origin:100% 50%;">2.0</div>
<div class="t" style="left:524.3px;top:1705.7px;font:400 19.3px/1 'Noto Sans CJK SC','Liberation Sans',sans-serif;color:#3a3d44;transform:translate(-50%,-50%) scaleX(0.9527);transform-origin:50% 50%;">4.0</div>
<div class="t" style="left:315.6px;top:1537.4px;font:400 19.3px/1 'Noto Sans CJK SC','Liberation Sans',sans-serif;color:#3a3d44;transform:translate(-100%,-50%) scaleX(0.9527);transform-origin:100% 50%;">4.0</div>
<div class="t" style="left:724.4px;top:1705.7px;font:400 19.3px/1 'Noto Sans CJK SC','Liberation Sans',sans-serif;color:#3a3d44;transform:translate(-50%,-50%) scaleX(0.9527);transform-origin:50% 50%;">8.0</div>
<div class="t" style="left:315.6px;top:1462.9px;font:400 19.3px/1 'Noto Sans CJK SC','Liberation Sans',sans-serif;color:#3a3d44;transform:translate(-100%,-50%) scaleX(0.9527);transform-origin:100% 50%;">6.0</div>
<div class="t" style="left:924.4px;top:1705.7px;font:400 19.3px/1 'Noto Sans CJK SC','Liberation Sans',sans-serif;color:#3a3d44;transform:translate(-50%,-50%) scaleX(0.9475);transform-origin:50% 50%;">12.0</div>
<div class="t" style="left:315.6px;top:1388.3px;font:400 19.3px/1 'Noto Sans CJK SC','Liberation Sans',sans-serif;color:#3a3d44;transform:translate(-100%,-50%) scaleX(0.9527);transform-origin:100% 50%;">8.0</div>
<div class="t" style="left:1124.4px;top:1705.7px;font:400 19.3px/1 'Noto Sans CJK SC','Liberation Sans',sans-serif;color:#3a3d44;transform:translate(-50%,-50%) scaleX(0.9475);transform-origin:50% 50%;">16.0</div>
<div class="t" style="left:724.6px;top:1737.2px;font:700 18.6px/1 'Noto Sans CJK SC','Liberation Sans',sans-serif;color:#2f3136;transform:translate(-50%,-50%);transform-origin:50% 50%;">时间</div>
<div class="t" style="left:270.600px;top:1537.9px;font:700 18.600px/1 'Noto Sans CJK SC','Liberation Sans',sans-serif;color:#2f3136;transform:translate(-50%,-50%) rotate(-90deg)">完成度</div>
<div class="t" style="left:632.6px;top:1784.6px;font:400 17.3px/1 'Noto Sans CJK SC','Liberation Sans',sans-serif;color:#3a3d44;transform:translate(0,-50%) scaleX(1.0191);transform-origin:0 50%;">业务1</div>
<div class="t" style="left:712.3px;top:1784.6px;font:400 17.3px/1 'Noto Sans CJK SC','Liberation Sans',sans-serif;color:#3a3d44;transform:translate(0,-50%) scaleX(1.0304);transform-origin:0 50%;">业务2</div>
<div class="t" style="left:1257.3px;top:753.1px;font:400 24.3px/1 'Noto Sans CJK SC','Liberation Sans',sans-serif;color:#fff;transform:translate(-50%,-50%) scaleX(0.9878);transform-origin:50% 50%;">业务权重</div>
<div class="abs" style="left:1340.500px;top:737px;width:670px;height:34.500px;background:#2d2d2d;border:1px solid #444;border-radius:6px"></div>
<div class="abs" style="left:1345px;top:770px;width:659px;height:2px;background:#9e9e9e;border-radius:1px"></div>
<div class="t" style="left:1349.2px;top:752.9px;font:400 24.3px/1 'Noto Sans CJK SC','Liberation Sans',sans-serif;color:#fff;transform:translate(0,-50%) scaleX(0.9510);transform-origin:0 50%;">1:1;</div>
<div class="t" style="left:1186.3px;top:807.9px;font:400 24.3px/1 'Noto Sans CJK SC','Liberation Sans',sans-serif;color:#fff;transform:translate(0,-50%) scaleX(0.9857);transform-origin:0 50%;">业务到达时间</div>
<div class="abs" style="left:1340.500px;top:783.700px;width:670px;height:520.500px;background:#2d2d2d;border:1px solid #444;border-radius:6px;border-bottom:2px solid #0d0d0d"></div>
<div class="t" style="left:1347.5px;top:802.7px;font:400 24.3px/1 'Noto Sans CJK SC','Liberation Sans',sans-serif;color:#fff;transform:translate(0,-50%) scaleX(1.0354);transform-origin:0 50%;">1:1-1,2-1,3-2,11-2;</div>
<div class="t" style="left:1347.5px;top:834.7px;font:400 24.3px/1 'Noto Sans CJK SC','Liberation Sans',sans-serif;color:#fff;transform:translate(0,-50%) scaleX(1.0360);transform-origin:0 50%;">2:0-3,5-2,9-2;</div>
<div class="abs" style="left:1189.200px;top:1318.8px;width:820.600px;height:37.0px;background:#3b3b3b;border:1px solid #464646;border-radius:6px"></div>
<div class="t" style="left:1599.3px;top:1337.0px;font:400 24.3px/1 'Noto Sans CJK SC','Liberation Sans',sans-serif;color:#fff;transform:translate(-50%,-50%) scaleX(0.9878);transform-origin:50% 50%;">生成柱状图</div>
<div class="abs" style="left:1189.200px;top:1371.5px;width:820.600px;height:36.7px;background:#3b3b3b;border:1px solid #464646;border-radius:6px"></div>
<div class="t" style="left:1599.3px;top:1389.5px;font:400 24.3px/1 'Noto Sans CJK SC','Liberation Sans',sans-serif;color:#fff;transform:translate(-50%,-50%) scaleX(0.9878);transform-origin:50% 50%;">停止模拟</div>
<div class="abs" style="left:1199.1px;top:1423.9px;width:800.3px;height:423.7px;background:#fff;border-radius:9px"></div>
<svg style="left:0;top:0" width="2448" height="1873"><path d="M1296.2 1682.3H1968.3M1296.2 1677.5H1968.3M1296.2 1672.7H1968.3M1296.2 1667.9H1968.3M1296.2 1663.1H1968.3M1296.2 1658.3H1968.3M1296.2 1653.5H1968.3M1296.2 1648.7H1968.3M1296.2 1643.9H1968.3M1296.2 1634.3H1968.3M1296.2 1629.5H1968.3M1296.2 1624.7H1968.3M1296.2 1619.9H1968.3M1296.2 1615.1H1968.3M1296.2 1610.3H1968.3M1296.2 1605.5H1968.3M1296.2 1600.7H1968.3M1296.2 1595.9H1968.3M1296.2 1586.3H1968.3M1296.2 1581.5H1968.3M1296.2 1576.7H1968.3M1296.2 1571.9H1968.3M1296.2 1567.1H1968.3M1296.2 1562.3H1968.3M1296.2 1557.5H1968.3M1296.2 1552.7H1968.3M1296.2 1547.9H1968.3M1296.2 1538.3H1968.3M1296.2 1533.5H1968.3M1296.2 1528.7H1968.3M1296.2 1523.9H1968.3M1296.2 1519.1H1968.3M1296.2 1514.3H1968.3M1296.2 1509.5H1968.3M1296.2 1504.7H1968.3M1296.2 1499.9H1968.3" stroke="#dcdcdc" stroke-width="1.25" stroke-dasharray="4.600 2.200" fill="none"/><path d="M1293.2 1687.1H1968.3M1293.2 1639.1H1968.3M1293.2 1591.1H1968.3M1293.2 1543.1H1968.3M1293.2 1495.1H1968.3M1299.2 1495.1V1693.1M1355.0 1495.1V1693.1M1410.7 1495.1V1693.1M1466.5 1495.1V1693.1M1522.2 1495.1V1693.1M1578.0 1495.1V1693.1M1633.8 1495.1V1693.1M1689.5 1495.1V1693.1M1745.3 1495.1V1693.1M1801.0 1495.1V1693.1M1856.8 1495.1V1693.1M1912.5 1495.1V1693.1M1968.3 1495.1V1693.1" stroke="#dadada" stroke-width="1.4" fill="none"/><path d="M1299.2 1495.1V1687.1H1968.3" stroke="#d8d8d8" stroke-width="2" fill="none"/><rect x="1320.6" y="1543.7" width="14.200" height="143.2" fill="#00ff00" stroke="#fff" stroke-width="1"/><rect x="1361.7" y="1639.7" width="14.200" height="47.2" fill="#ff0000" stroke="#fff" stroke-width="1"/><rect x="1417.4" y="1639.7" width="14.200" height="47.2" fill="#ff0000" stroke="#fff" stroke-width="1"/><rect x="1473.2" y="1591.7" width="14.200" height="95.2" fill="#ff0000" stroke="#fff" stroke-width="1"/><rect x="1599.4" y="1591.7" width="14.200" height="95.2" fill="#00ff00" stroke="#fff" stroke-width="1"/><rect x="1822.4" y="1591.7" width="14.200" height="95.2" fill="#00ff00" stroke="#fff" stroke-width="1"/><rect x="1919.2" y="1591.7" width="14.200" height="95.2" fill="#ff0000" stroke="#fff" stroke-width="1"/><rect x="1481.500" y="1782" width="9" height="9" fill="#ff0000"/><rect x="1561.300" y="1782" width="9" height="9" fill="#00ff00"/><rect x="1640.500" y="1782" width="9" height="9" fill="#c0c0c0"/></svg>
<div class="t" style="left:1601.3px;top:1466.2px;font:400 17.3px/1 'Noto Sans CJK SC','Liberation Sans',sans-serif;color:#3a3d44;transform:translate(-50%,-50%) scaleX(1.0343);transform-origin:50% 50%;">各业务到达任务量柱状图（含间隔）</div>
<div class="t" style="left:1290.9px;top:1686.6px;font:400 19.3px/1 'Noto Sans CJK SC','Liberation Sans',sans-serif;color:#3a3d44;transform:translate(-100%,-50%) scaleX(0.9527);transform-origin:100% 50%;">0.0</div>
<div class="t" style="left:1290.9px;top:1638.6px;font:400 19.3px/1 'Noto Sans CJK SC','Liberation Sans',sans-serif;color:#3a3d44;transform:translate(-100%,-50%) scaleX(0.9527);transform-origin:100% 50%;">1.0</div>
<div class="t" style="left:1290.9px;top:1590.6px;font:400 19.3px/1 'Noto Sans CJK SC','Liberation Sans',sans-serif;color:#3a3d44;transform:translate(-100%,-50%) scaleX(0.9527);transform-origin:100% 50%;">2.0</div>
<div class="t" style="left:1290.9px;top:1542.6px;font:400 19.3px/1 'Noto Sans CJK SC','Liberation Sans',sans-serif;color:#3a3d44;transform:translate(-100%,-50%) scaleX(0.9527);transform-origin:100% 50%;">3.0</div>
<div class="t" style="left:1290.9px;top:1494.6px;font:400 19.3px/1 'Noto Sans CJK SC','Liberation Sans',sans-serif;color:#3a3d44;transform:translate(-100%,-50%) scaleX(0.9527);transform-origin:100% 50%;">4.0</div>
<div class="t" style="left:1327.6px;top:1706.0px;font:400 19.3px/1 'Noto Sans CJK SC','Liberation Sans',sans-serif;color:#3a3d44;transform:translate(-50%,-50%) scaleX(0.9527);transform-origin:50% 50%;">0.0</div>
<div class="t" style="left:1383.3px;top:1706.0px;font:400 19.3px/1 'Noto Sans CJK SC','Liberation Sans',sans-serif;color:#3a3d44;transform:translate(-50%,-50%) scaleX(0.9527);transform-origin:50% 50%;">1.0</div>
<div class="t" style="left:1439.1px;top:1706.0px;font:400 19.3px/1 'Noto Sans CJK SC','Liberation Sans',sans-serif;color:#3a3d44;transform:translate(-50%,-50%) scaleX(0.9527);transform-origin:50% 50%;">2.0</div>
<div class="t" style="left:1494.9px;top:1706.0px;font:400 19.3px/1 'Noto Sans CJK SC','Liberation Sans',sans-serif;color:#3a3d44;transform:translate(-50%,-50%) scaleX(0.9527);transform-origin:50% 50%;">3.0</div>
<div class="t" style="left:1550.6px;top:1706.0px;font:400 19.3px/1 'Noto Sans CJK SC','Liberation Sans',sans-serif;color:#3a3d44;transform:translate(-50%,-50%) scaleX(0.9527);transform-origin:50% 50%;">4.0</div>
<div class="t" style="left:1606.4px;top:1706.0px;font:400 19.3px/1 'Noto Sans CJK SC','Liberation Sans',sans-serif;color:#3a3d44;transform:translate(-50%,-50%) scaleX(0.9527);transform-origin:50% 50%;">5.0</div>
<div class="t" style="left:1662.1px;top:1706.0px;font:400 19.3px/1 'Noto Sans CJK SC','Liberation Sans',sans-serif;color:#3a3d44;transform:translate(-50%,-50%) scaleX(0.9527);transform-origin:50% 50%;">6.0</div>
<div class="t" style="left:1717.9px;top:1706.0px;font:400 19.3px/1 'Noto Sans CJK SC','Liberation Sans',sans-serif;color:#3a3d44;transform:translate(-50%,-50%) scaleX(0.9527);transform-origin:50% 50%;">7.0</div>
<div class="t" style="left:1773.6px;top:1706.0px;font:400 19.3px/1 'Noto Sans CJK SC','Liberation Sans',sans-serif;color:#3a3d44;transform:translate(-50%,-50%) scaleX(0.9527);transform-origin:50% 50%;">8.0</div>
<div class="t" style="left:1829.4px;top:1706.0px;font:400 19.3px/1 'Noto Sans CJK SC','Liberation Sans',sans-serif;color:#3a3d44;transform:translate(-50%,-50%) scaleX(0.9527);transform-origin:50% 50%;">9.0</div>
<div class="t" style="left:1885.2px;top:1706.0px;font:400 19.3px/1 'Noto Sans CJK SC','Liberation Sans',sans-serif;color:#3a3d44;transform:translate(-50%,-50%) scaleX(0.9475);transform-origin:50% 50%;">10.0</div>
<div class="t" style="left:1940.9px;top:1706.0px;font:400 19.3px/1 'Noto Sans CJK SC','Liberation Sans',sans-serif;color:#3a3d44;transform:translate(-50%,-50%) scaleX(0.9475);transform-origin:50% 50%;">11.0</div>
<div class="t" style="left:1633.9px;top:1738.3px;font:700 18.6px/1 'Noto Sans CJK SC','Liberation Sans',sans-serif;color:#2f3136;transform:translate(-50%,-50%);transform-origin:50% 50%;">时间</div>
<div class="t" style="left:1245.200px;top:1591.200px;font:700 18.600px/1 'Noto Sans CJK SC','Liberation Sans',sans-serif;color:#2f3136;transform:translate(-50%,-50%) rotate(-90deg)">任务量</div>
<div class="t" style="left:1500.0px;top:1786.0px;font:400 17.3px/1 'Noto Sans CJK SC','Liberation Sans',sans-serif;color:#3a3d44;transform:translate(0,-50%) scaleX(1.0191);transform-origin:0 50%;">业务1</div>
<div class="t" style="left:1579.2px;top:1786.0px;font:400 17.3px/1 'Noto Sans CJK SC','Liberation Sans',sans-serif;color:#3a3d44;transform:translate(0,-50%) scaleX(1.0304);transform-origin:0 50%;">业务2</div>
<div class="t" style="left:1657.8px;top:1786.0px;font:400 17.3px/1 'Noto Sans CJK SC','Liberation Sans',sans-serif;color:#3a3d44;transform:translate(0,-50%) scaleX(1.0700);transform-origin:0 50%;">间隔</div></div>
<!-- annotations -->
<div id="annot"><div class="t" style="left:92.3px;top:220.5px;font:400 103px/1 'Noto Sans CJK SC','Liberation Sans',sans-serif;color:#fa3838;transform:translate(0,-50%) scaleX(0.9851);transform-origin:0 50%;">GPS</div>
<div class="t" style="left:1141.2px;top:667.1px;font:400 103px/1 'Noto Sans CJK SC','Liberation Sans',sans-serif;color:#fa3838;transform:translate(0,-50%) scaleX(1.1721);transform-origin:0 50%;">W</div>
<div class="t" style="left:1246.0px;top:667.1px;font:400 103px/1 'Noto Sans CJK SC','Liberation Sans',sans-serif;color:#fa3838;transform:translate(0,-50%) scaleX(0.8882);transform-origin:0 50%;">F</div>
<div class="t" style="left:1297.2px;top:680.2px;font:400 108px/1 'DejaVu Sans','Liberation Sans',sans-serif;color:#fa3838;transform:translate(0,-50%) scaleX(0.9822);transform-origin:0 50%;clip-path:inset(-20px -20px 10px -20px)">Q</div>
<svg style="left:0;top:0" width="2448" height="1873"><path d="M1111.300 702.900L956.800 790.900L953.500 787.100L943.700 804.800L964 804.300L961.100 800Z" fill="#ff5064"/><path d="M72.400 607.800L230.700 1359.700L220.900 1362.400L248.500 1392.600L261.200 1353.100L250.800 1355Z" fill="#ff5064"/></svg></div>
</body></html>
